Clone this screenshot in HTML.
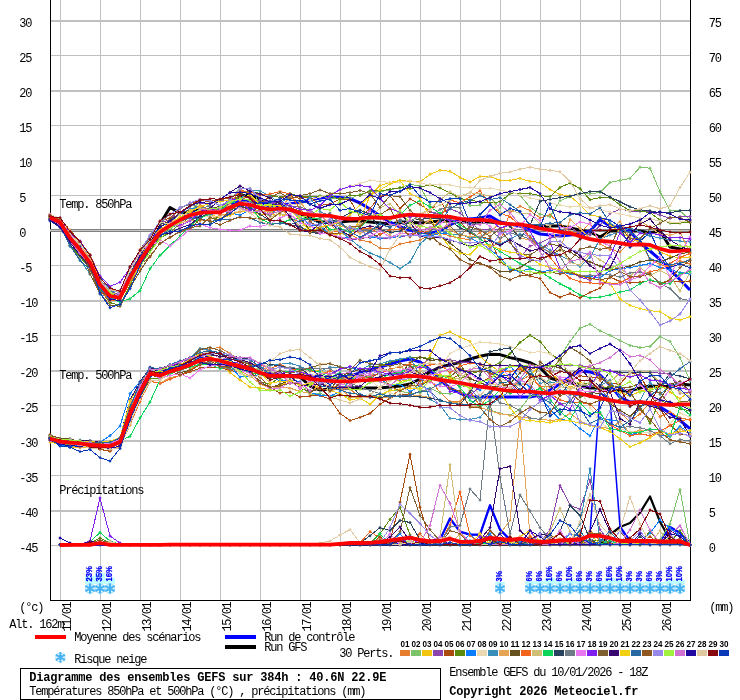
<!DOCTYPE html>
<html lang="fr"><head><meta charset="utf-8"><title>Diagramme des ensembles GEFS</title>
<style>html,body{margin:0;padding:0;background:#fff}svg{display:block;will-change:transform}</style></head>
<body>
<svg width="740" height="700" viewBox="0 0 740 700">
<rect width="740" height="700" fill="#fff"/>
<g shape-rendering="crispEdges">
<rect x="50" y="20" width="640" height="2" fill="#c0c0c0"/>
<rect x="50" y="55" width="640" height="1" fill="#c0c0c0"/>
<rect x="50" y="90" width="640" height="2" fill="#c0c0c0"/>
<rect x="50" y="125" width="640" height="1" fill="#c0c0c0"/>
<rect x="50" y="160" width="640" height="2" fill="#c0c0c0"/>
<rect x="50" y="195" width="640" height="1" fill="#c0c0c0"/>
<rect x="50" y="265" width="640" height="1" fill="#c0c0c0"/>
<rect x="50" y="300" width="640" height="2" fill="#c0c0c0"/>
<rect x="50" y="335" width="640" height="1" fill="#c0c0c0"/>
<rect x="50" y="370" width="640" height="2" fill="#c0c0c0"/>
<rect x="50" y="405" width="640" height="1" fill="#c0c0c0"/>
<rect x="50" y="440" width="640" height="2" fill="#c0c0c0"/>
<rect x="50" y="475" width="640" height="1" fill="#c0c0c0"/>
<rect x="50" y="510" width="640" height="2" fill="#c0c0c0"/>
<rect x="50" y="545" width="640" height="1" fill="#c0c0c0"/>
<rect x="60" y="0" width="1" height="600" fill="#c0c0c0"/>
<rect x="100" y="0" width="1" height="600" fill="#c0c0c0"/>
<rect x="140" y="0" width="1" height="600" fill="#c0c0c0"/>
<rect x="180" y="0" width="1" height="600" fill="#c0c0c0"/>
<rect x="220" y="0" width="1" height="600" fill="#c0c0c0"/>
<rect x="260" y="0" width="1" height="600" fill="#c0c0c0"/>
<rect x="300" y="0" width="1" height="600" fill="#c0c0c0"/>
<rect x="340" y="0" width="1" height="600" fill="#c0c0c0"/>
<rect x="380" y="0" width="1" height="600" fill="#c0c0c0"/>
<rect x="420" y="0" width="1" height="600" fill="#c0c0c0"/>
<rect x="460" y="0" width="1" height="600" fill="#c0c0c0"/>
<rect x="500" y="0" width="1" height="600" fill="#c0c0c0"/>
<rect x="540" y="0" width="1" height="600" fill="#c0c0c0"/>
<rect x="580" y="0" width="1" height="600" fill="#c0c0c0"/>
<rect x="620" y="0" width="1" height="600" fill="#c0c0c0"/>
<rect x="660" y="0" width="1" height="600" fill="#c0c0c0"/>
</g>
<g shape-rendering="crispEdges" fill="#000"><rect x="50" y="0" width="1" height="601"/><rect x="690" y="0" width="1" height="601"/><rect x="50" y="600" width="641" height="1"/></g>
<g shape-rendering="crispEdges"><rect x="50" y="229" width="640" height="3" fill="#808080"/><rect x="50" y="230" width="640" height="1" fill="#c8c8c8"/></g>
<path d="M50 217.8 L60 222.2 L70 238.0 L80 249.5 L90 262.6 L100 284.6 L110 296.0 L120 297.8 L130 277.6 L140 260.9 L150 246.0 L160 224.0 L170 207.5 L180 213.0 L190 212.0 L200 210.0 L210 210.0 L220 210.0 L230 205.0 L240 196.0 L250 195.0 L260 199.0 L270 204.0 L280 207.0 L290 210.0 L300 214.0 L310 218.0 L320 222.0 L330 222.0 L340 222.0 L350 221.0 L360 221.0 L370 222.0 L380 223.0 L390 224.0 L400 222.5 L410 222.0 L420 223.0 L430 222.0 L440 221.0 L450 221.0 L460 222.0 L470 222.0 L480 222.0 L490 222.0 L500 223.0 L510 224.0 L520 225.0 L530 226.0 L540 227.0 L550 226.0 L560 226.0 L570 228.0 L580 230.0 L590 232.0 L600 237.0 L610 231.0 L620 231.0 L630 231.0 L640 231.0 L650 233.0 L660 231.0 L670 247.0 L680 249.0 L690 250.0" fill="none" stroke="#000" stroke-width="3" stroke-linejoin="round" stroke-linecap="butt"/>
<path d="M50 438.5 L60 441.6 L70 442.6 L80 443.4 L90 444.8 L100 445.7 L110 446.0 L120 442.0 L130 414.0 L140 391.8 L150 373.5 L160 375.5 L170 371.5 L180 368.6 L190 364.9 L200 360.3 L210 358.7 L220 360.7 L230 363.7 L240 366.4 L250 368.8 L260 372.8 L270 375.9 L280 375.9 L290 375.9 L300 376.9 L310 386.0 L320 390.0 L330 389.0 L340 388.0 L350 388.0 L360 388.0 L370 388.0 L380 388.0 L390 387.0 L400 386.0 L410 384.0 L420 379.0 L430 372.0 L440 367.0 L450 364.7 L460 362.3 L470 359.0 L480 356.2 L490 354.2 L500 354.6 L510 357.6 L520 359.7 L530 362.7 L540 367.8 L550 378.0 L560 381.0 L570 382.0 L580 386.0 L590 388.0 L600 388.0 L610 389.0 L620 391.0 L630 390.7 L640 388.0 L650 386.0 L660 386.6 L670 386.6 L680 384.0 L690 385.0" fill="none" stroke="#000" stroke-width="3" stroke-linejoin="round" stroke-linecap="butt"/>
<path d="M60 545.0 L70 545.0 L80 545.0 L90 545.0 L100 545.0 L110 545.0 L120 544.9 L130 544.9 L140 544.9 L150 544.9 L160 544.9 L170 544.9 L180 544.9 L190 544.9 L200 544.9 L210 544.9 L220 544.9 L230 544.8 L240 544.8 L250 544.8 L260 544.8 L270 544.8 L280 544.8 L290 544.8 L300 544.8 L310 544.8 L320 544.8 L330 544.8 L340 544.7 L350 544.7 L360 544.7 L370 544.7 L380 544.7 L390 544.7 L400 544.7 L410 544.7 L420 544.7 L430 544.7 L440 544.6 L450 544.6 L460 544.6 L470 544.6 L480 544.6 L490 544.6 L500 544.6 L510 544.6 L520 544.6 L530 544.6 L540 544.6 L550 544.5 L560 544.5 L570 544.5 L580 544.5 L590 544.5 L600 544.5 L610 534.6 L620 527.0 L630 523.0 L640 512.7 L650 496.5 L660 521.7 L670 539.7 L680 544.0 L690 545.0" fill="none" stroke="#000" stroke-width="2.2" stroke-linejoin="round" stroke-linecap="butt"/>
<path d="M50 218.0 L60 222.0 L70 238.0 L80 250.0 L90 263.0 L100 285.0 L110 296.0 L120 297.0 L130 277.0 L140 260.0 L150 245.0 L160 232.0 L170 225.0 L180 219.0 L190 214.0 L200 211.0 L210 210.0 L220 209.0 L230 205.0 L240 200.0 L250 201.0 L260 203.0 L270 206.0 L280 205.0 L290 204.0 L300 202.0 L310 200.0 L320 198.0 L330 197.0 L340 197.5 L350 198.7 L360 203.0 L370 209.0 L380 216.0 L390 222.0 L400 227.0 L410 230.0 L420 232.0 L430 233.5 L440 231.0 L450 225.0 L460 220.0 L470 219.0 L480 218.0 L490 216.0 L500 222.0 L510 224.0 L520 226.0 L530 230.0 L540 234.0 L550 235.0 L560 236.0 L570 235.0 L580 234.0 L590 231.0 L600 220.0 L610 226.0 L620 227.0 L630 231.0 L640 243.0 L650 251.0 L660 259.5 L670 269.6 L680 279.7 L690 290.0" fill="none" stroke="#0000ff" stroke-width="3" stroke-linejoin="round" stroke-linecap="butt"/>
<path d="M50 438.5 L60 441.6 L70 442.6 L80 443.4 L90 444.8 L100 445.7 L110 446.0 L120 442.0 L130 414.0 L140 391.8 L150 373.5 L160 375.5 L170 371.5 L180 368.6 L190 364.9 L200 360.3 L210 358.7 L220 360.7 L230 363.7 L240 366.4 L250 368.8 L260 372.8 L270 375.9 L280 375.9 L290 375.9 L300 375.0 L310 376.0 L320 377.0 L330 378.0 L340 378.0 L350 376.0 L360 373.0 L370 370.0 L380 367.0 L390 364.0 L400 361.0 L410 359.0 L420 362.0 L430 370.0 L440 380.0 L450 388.0 L460 393.0 L470 397.0 L480 397.0 L490 397.0 L500 397.0 L510 397.0 L520 397.0 L530 397.0 L540 395.0 L550 390.0 L560 384.0 L570 377.0 L580 371.0 L590 372.0 L600 375.0 L610 385.0 L620 397.0 L630 402.0 L640 402.0 L650 403.0 L660 407.0 L670 413.0 L680 420.5 L690 428.6" fill="none" stroke="#0000ff" stroke-width="3" stroke-linejoin="round" stroke-linecap="butt"/>
<path d="M60 545.0 L70 545.0 L80 544.9 L90 544.9 L100 544.9 L110 544.9 L120 544.8 L130 544.8 L140 544.8 L150 544.8 L160 544.7 L170 544.7 L180 544.7 L190 544.6 L200 544.6 L210 544.6 L220 544.6 L230 544.5 L240 544.5 L250 544.5 L260 544.5 L270 544.4 L280 544.4 L290 544.4 L300 544.4 L310 544.3 L320 544.3 L330 544.3 L340 544.2 L350 544.2 L360 544.2 L370 544.2 L380 544.1 L390 544.1 L400 544.1 L410 544.1 L420 544.0 L430 544.0 L440 539.7 L450 518.5 L460 531.6 L470 534.7 L480 534.7 L490 505.3 L500 529.6 L510 539.7 L520 542.0 L530 541.9 L540 541.8 L550 541.8 L560 541.7 L570 541.6 L580 541.5 L590 534.0 L600 393.0 L610 399.0 L620 527.0 L630 541.0 L640 541.0 L650 541.0 L660 541.0 L670 527.0 L680 533.0 L690 543.0" fill="none" stroke="#0000ff" stroke-width="1.5" stroke-linejoin="round" stroke-linecap="butt"/>
<path d="M60 545.0 L70 545.0 L80 544.9 L90 544.9 L100 544.9 L110 544.9 L120 544.8 L130 544.8 L140 544.8 L150 544.8 L160 544.7 L170 544.7 L180 544.7 L190 544.6 L200 544.6 L210 544.6 L220 544.6 L230 544.5 L240 544.5 L250 544.5 L260 544.5 L270 544.4 L280 544.4 L290 544.4 L300 544.4 L310 544.3 L320 544.3 L330 544.3 L340 544.2 L350 544.2 L360 544.2 L370 544.2 L380 544.1 L390 544.1 L400 544.1 L410 544.1 L420 544.0 L430 544.0 L440 539.7 L450 518.5 L460 531.6 L470 534.7 L480 534.7 L490 505.3 L500 529.6 L510 539.7 L520 542.0 L530 541.9 L540 541.8 L550 541.8 L560 541.7 L570 541.6 L580 541.5 L590 534.0" fill="none" stroke="#0000ff" stroke-width="2.3" stroke-linejoin="round" stroke-linecap="butt"/>
<path d="M620 527.0 L630 541.0 L640 541.0 L650 541.0 L660 541.0 L670 527.0 L680 533.0 L690 543.0" fill="none" stroke="#0000ff" stroke-width="2.3" stroke-linejoin="round" stroke-linecap="butt"/>
<defs>
<marker id="k1" viewBox="-2 -2 4 4" markerWidth="4" markerHeight="4" markerUnits="userSpaceOnUse" overflow="visible"><path d="M-1.7 0L0 -1.7L1.7 0L0 1.7Z" fill="#E67E30"/></marker>
<marker id="k2" viewBox="-2 -2 4 4" markerWidth="4" markerHeight="4" markerUnits="userSpaceOnUse" overflow="visible"><path d="M-1.7 0L0 -1.7L1.7 0L0 1.7Z" fill="#7DC369"/></marker>
<marker id="k3" viewBox="-2 -2 4 4" markerWidth="4" markerHeight="4" markerUnits="userSpaceOnUse" overflow="visible"><path d="M-1.7 0L0 -1.7L1.7 0L0 1.7Z" fill="#F1C40F"/></marker>
<marker id="k4" viewBox="-2 -2 4 4" markerWidth="4" markerHeight="4" markerUnits="userSpaceOnUse" overflow="visible"><path d="M-1.7 0L0 -1.7L1.7 0L0 1.7Z" fill="#8E44AD"/></marker>
<marker id="k5" viewBox="-2 -2 4 4" markerWidth="4" markerHeight="4" markerUnits="userSpaceOnUse" overflow="visible"><path d="M-1.7 0L0 -1.7L1.7 0L0 1.7Z" fill="#AA4A0C"/></marker>
<marker id="k6" viewBox="-2 -2 4 4" markerWidth="4" markerHeight="4" markerUnits="userSpaceOnUse" overflow="visible"><path d="M-1.7 0L0 -1.7L1.7 0L0 1.7Z" fill="#5B8A0C"/></marker>
<marker id="k7" viewBox="-2 -2 4 4" markerWidth="4" markerHeight="4" markerUnits="userSpaceOnUse" overflow="visible"><path d="M-1.7 0L0 -1.7L1.7 0L0 1.7Z" fill="#0A7CFF"/></marker>
<marker id="k8" viewBox="-2 -2 4 4" markerWidth="4" markerHeight="4" markerUnits="userSpaceOnUse" overflow="visible"><path d="M-1.7 0L0 -1.7L1.7 0L0 1.7Z" fill="#EAD9B0"/></marker>
<marker id="k9" viewBox="-2 -2 4 4" markerWidth="4" markerHeight="4" markerUnits="userSpaceOnUse" overflow="visible"><path d="M-1.7 0L0 -1.7L1.7 0L0 1.7Z" fill="#3A8EBA"/></marker>
<marker id="k10" viewBox="-2 -2 4 4" markerWidth="4" markerHeight="4" markerUnits="userSpaceOnUse" overflow="visible"><path d="M-1.7 0L0 -1.7L1.7 0L0 1.7Z" fill="#E5A555"/></marker>
<marker id="k11" viewBox="-2 -2 4 4" markerWidth="4" markerHeight="4" markerUnits="userSpaceOnUse" overflow="visible"><path d="M-1.7 0L0 -1.7L1.7 0L0 1.7Z" fill="#65501E"/></marker>
<marker id="k12" viewBox="-2 -2 4 4" markerWidth="4" markerHeight="4" markerUnits="userSpaceOnUse" overflow="visible"><path d="M-1.7 0L0 -1.7L1.7 0L0 1.7Z" fill="#F2641C"/></marker>
<marker id="k13" viewBox="-2 -2 4 4" markerWidth="4" markerHeight="4" markerUnits="userSpaceOnUse" overflow="visible"><path d="M-1.7 0L0 -1.7L1.7 0L0 1.7Z" fill="#D1BE76"/></marker>
<marker id="k14" viewBox="-2 -2 4 4" markerWidth="4" markerHeight="4" markerUnits="userSpaceOnUse" overflow="visible"><path d="M-1.7 0L0 -1.7L1.7 0L0 1.7Z" fill="#0AD558"/></marker>
<marker id="k15" viewBox="-2 -2 4 4" markerWidth="4" markerHeight="4" markerUnits="userSpaceOnUse" overflow="visible"><path d="M-1.7 0L0 -1.7L1.7 0L0 1.7Z" fill="#26425E"/></marker>
<marker id="k16" viewBox="-2 -2 4 4" markerWidth="4" markerHeight="4" markerUnits="userSpaceOnUse" overflow="visible"><path d="M-1.7 0L0 -1.7L1.7 0L0 1.7Z" fill="#6E7A84"/></marker>
<marker id="k17" viewBox="-2 -2 4 4" markerWidth="4" markerHeight="4" markerUnits="userSpaceOnUse" overflow="visible"><path d="M-1.7 0L0 -1.7L1.7 0L0 1.7Z" fill="#E878F0"/></marker>
<marker id="k18" viewBox="-2 -2 4 4" markerWidth="4" markerHeight="4" markerUnits="userSpaceOnUse" overflow="visible"><path d="M-1.7 0L0 -1.7L1.7 0L0 1.7Z" fill="#8020F0"/></marker>
<marker id="k19" viewBox="-2 -2 4 4" markerWidth="4" markerHeight="4" markerUnits="userSpaceOnUse" overflow="visible"><path d="M-1.7 0L0 -1.7L1.7 0L0 1.7Z" fill="#806030"/></marker>
<marker id="k20" viewBox="-2 -2 4 4" markerWidth="4" markerHeight="4" markerUnits="userSpaceOnUse" overflow="visible"><path d="M-1.7 0L0 -1.7L1.7 0L0 1.7Z" fill="#380870"/></marker>
<marker id="k21" viewBox="-2 -2 4 4" markerWidth="4" markerHeight="4" markerUnits="userSpaceOnUse" overflow="visible"><path d="M-1.7 0L0 -1.7L1.7 0L0 1.7Z" fill="#F0D010"/></marker>
<marker id="k22" viewBox="-2 -2 4 4" markerWidth="4" markerHeight="4" markerUnits="userSpaceOnUse" overflow="visible"><path d="M-1.7 0L0 -1.7L1.7 0L0 1.7Z" fill="#2868A0"/></marker>
<marker id="k23" viewBox="-2 -2 4 4" markerWidth="4" markerHeight="4" markerUnits="userSpaceOnUse" overflow="visible"><path d="M-1.7 0L0 -1.7L1.7 0L0 1.7Z" fill="#905820"/></marker>
<marker id="k24" viewBox="-2 -2 4 4" markerWidth="4" markerHeight="4" markerUnits="userSpaceOnUse" overflow="visible"><path d="M-1.7 0L0 -1.7L1.7 0L0 1.7Z" fill="#9888E8"/></marker>
<marker id="k25" viewBox="-2 -2 4 4" markerWidth="4" markerHeight="4" markerUnits="userSpaceOnUse" overflow="visible"><path d="M-1.7 0L0 -1.7L1.7 0L0 1.7Z" fill="#A0F040"/></marker>
<marker id="k26" viewBox="-2 -2 4 4" markerWidth="4" markerHeight="4" markerUnits="userSpaceOnUse" overflow="visible"><path d="M-1.7 0L0 -1.7L1.7 0L0 1.7Z" fill="#D070D0"/></marker>
<marker id="k27" viewBox="-2 -2 4 4" markerWidth="4" markerHeight="4" markerUnits="userSpaceOnUse" overflow="visible"><path d="M-1.7 0L0 -1.7L1.7 0L0 1.7Z" fill="#2008A0"/></marker>
<marker id="k28" viewBox="-2 -2 4 4" markerWidth="4" markerHeight="4" markerUnits="userSpaceOnUse" overflow="visible"><path d="M-1.7 0L0 -1.7L1.7 0L0 1.7Z" fill="#E0C8A0"/></marker>
<marker id="k29" viewBox="-2 -2 4 4" markerWidth="4" markerHeight="4" markerUnits="userSpaceOnUse" overflow="visible"><path d="M-1.7 0L0 -1.7L1.7 0L0 1.7Z" fill="#880810"/></marker>
<marker id="k30" viewBox="-2 -2 4 4" markerWidth="4" markerHeight="4" markerUnits="userSpaceOnUse" overflow="visible"><path d="M-1.7 0L0 -1.7L1.7 0L0 1.7Z" fill="#0838B8"/></marker>
</defs>
<g fill="none" stroke-width="1" stroke-linejoin="round" shape-rendering="crispEdges">
<path d="M50 217.9 L60 222.2 L70 237.5 L80 245.4 L90 262.1 L100 289.5 L110 300.2 L120 297.5 L130 274.2 L140 261.8 L150 243.8 L160 231.7 L170 224.8 L180 218.5 L190 213.3 L200 205.2 L210 210.5 L220 208.4 L230 198.7 L240 189.3 L250 194.1 L260 203.8 L270 214.9 L280 206.7 L290 218.6 L300 221.5 L310 218.9 L320 215.4 L330 224.1 L340 233.7 L350 234.4 L360 240.0 L370 242.0 L380 248.0 L390 249.0 L400 244.0 L410 242.0 L420 240.0 L430 235.0 L440 233.0 L450 236.0 L460 238.3 L470 239.8 L480 232.8 L490 248.1 L500 241.8 L510 212.2 L520 206.2 L530 210.6 L540 217.9 L550 214.8 L560 223.6 L570 231.6 L580 232.9 L590 223.3 L600 243.9 L610 249.6 L620 251.9 L630 241.6 L640 240.0 L650 259.6 L660 264.6 L670 267.0 L680 260.7 L690 263.9" stroke="#E67E30" marker-start="url(#k1)" marker-mid="url(#k1)" marker-end="url(#k1)"/>
<path d="M50 436.5 L60 439.4 L70 442.8 L80 443.2 L90 448.0 L100 446.9 L110 444.8 L120 439.6 L130 405.7 L140 384.1 L150 368.3 L160 371.5 L170 367.2 L180 364.9 L190 363.2 L200 355.2 L210 348.8 L220 347.5 L230 353.6 L240 360.6 L250 362.9 L260 367.6 L270 369.7 L280 367.3 L290 367.9 L300 374.8 L310 381.4 L320 388.8 L330 390.6 L340 388.4 L350 389.0 L360 397.2 L370 395.5 L380 398.4 L390 397.1 L400 389.6 L410 386.8 L420 384.5 L430 379.2 L440 392.4 L450 401.6 L460 401.8 L470 390.8 L480 406.2 L490 393.8 L500 382.6 L510 388.5 L520 380.6 L530 375.1 L540 386.2 L550 387.0 L560 380.2 L570 379.9 L580 366.9 L590 366.7 L600 380.2 L610 400.0 L620 412.7 L630 421.5 L640 414.0 L650 402.1 L660 416.7 L670 411.9 L680 417.8 L690 419.9" stroke="#E67E30" marker-start="url(#k1)" marker-mid="url(#k1)" marker-end="url(#k1)"/>
<path d="M60 544.6 L70 544.6 L80 544.6 L90 544.6 L100 541.6 L110 544.6 L120 544.6 L130 544.6 L140 544.6 L150 544.6 L160 544.6 L170 544.6 L180 544.6 L190 544.6 L200 544.6 L210 544.6 L220 544.6 L230 544.6 L240 544.6 L250 544.6 L260 544.6 L270 544.6 L280 544.6 L290 544.6 L300 544.6 L310 544.6 L320 544.6 L330 544.6 L340 544.6 L350 544.6 L360 544.6 L370 544.6 L380 538.6 L390 544.6 L400 544.6 L410 544.6 L420 544.6 L430 540.6 L440 544.6 L450 544.6 L460 544.6 L470 544.6 L480 544.6 L490 544.6 L500 544.6 L510 542.6 L520 544.6 L530 544.6 L540 544.6 L550 544.6 L560 544.6 L570 544.6 L580 544.6 L590 530.6 L600 540.6 L610 544.6 L620 544.6 L630 544.6 L640 544.6 L650 544.6 L660 542.6 L670 544.6 L680 544.6 L690 544.8" stroke="#E67E30" marker-start="url(#k1)" marker-mid="url(#k1)" marker-end="url(#k1)"/>
<path d="M50 216.0 L60 219.3 L70 234.5 L80 248.7 L90 257.7 L100 280.1 L110 289.9 L120 291.8 L130 267.5 L140 252.5 L150 238.4 L160 231.9 L170 220.9 L180 218.1 L190 210.9 L200 202.0 L210 206.1 L220 210.8 L230 199.5 L240 188.2 L250 188.3 L260 203.2 L270 209.6 L280 203.6 L290 194.3 L300 197.1 L310 197.2 L320 195.7 L330 198.4 L340 198.5 L350 198.7 L360 194.5 L370 191.9 L380 191.7 L390 189.7 L400 187.8 L410 184.4 L420 186.1 L430 204.7 L440 214.9 L450 199.2 L460 197.7 L470 205.5 L480 205.0 L490 197.3 L500 207.9 L510 191.6 L520 195.2 L530 207.2 L540 214.3 L550 216.8 L560 200.7 L570 196.6 L580 193.6 L590 193.6 L600 192.6 L610 182.4 L620 180.4 L630 178.4 L640 167.2 L650 168.2 L660 191.6 L670 210.8 L680 210.8 L690 220.0" stroke="#7DC369" marker-start="url(#k2)" marker-mid="url(#k2)" marker-end="url(#k2)"/>
<path d="M50 438.9 L60 440.8 L70 442.1 L80 440.9 L90 444.1 L100 443.7 L110 444.0 L120 440.0 L130 408.0 L140 391.5 L150 374.3 L160 376.5 L170 373.2 L180 364.9 L190 362.1 L200 358.3 L210 357.8 L220 362.9 L230 363.3 L240 368.5 L250 367.4 L260 370.0 L270 377.4 L280 378.6 L290 383.4 L300 383.9 L310 394.8 L320 393.5 L330 396.7 L340 394.2 L350 397.8 L360 397.4 L370 394.7 L380 397.5 L390 389.8 L400 391.0 L410 393.2 L420 392.9 L430 388.1 L440 393.0 L450 393.7 L460 391.5 L470 396.5 L480 399.8 L490 409.7 L500 413.6 L510 415.1 L520 409.2 L530 396.3 L540 394.8 L550 377.0 L560 356.6 L570 341.4 L580 328.2 L590 324.2 L600 330.8 L610 335.3 L620 340.4 L630 345.5 L640 347.5 L650 346.5 L660 336.4 L670 341.4 L680 357.6 L690 381.0" stroke="#7DC369" marker-start="url(#k2)" marker-mid="url(#k2)" marker-end="url(#k2)"/>
<path d="M60 544.6 L70 544.6 L80 544.6 L90 544.6 L100 544.6 L110 543.6 L120 544.6 L130 544.6 L140 544.6 L150 544.6 L160 544.6 L170 544.6 L180 544.6 L190 544.6 L200 544.6 L210 544.6 L220 544.6 L230 544.6 L240 544.6 L250 544.6 L260 544.6 L270 544.6 L280 544.6 L290 544.6 L300 544.6 L310 544.6 L320 544.6 L330 544.6 L340 544.6 L350 544.6 L360 544.6 L370 544.6 L380 544.6 L390 544.6 L400 544.6 L410 544.6 L420 544.6 L430 544.6 L440 544.6 L450 544.6 L460 544.6 L470 544.6 L480 540.6 L490 538.6 L500 544.6 L510 544.6 L520 544.6 L530 544.6 L540 544.6 L550 544.6 L560 544.6 L570 544.6 L580 541.6 L590 544.6 L600 544.6 L610 544.6 L620 544.6 L630 544.6 L640 544.6 L650 543.0 L660 540.0 L670 524.0 L680 489.6 L690 544.8" stroke="#7DC369" marker-start="url(#k2)" marker-mid="url(#k2)" marker-end="url(#k2)"/>
<path d="M50 215.5 L60 221.2 L70 235.0 L80 243.8 L90 257.4 L100 280.7 L110 290.8 L120 296.1 L130 272.5 L140 258.0 L150 242.3 L160 231.6 L170 229.6 L180 221.1 L190 217.1 L200 212.9 L210 214.0 L220 218.2 L230 215.6 L240 211.3 L250 212.0 L260 214.5 L270 214.1 L280 214.8 L290 215.8 L300 230.3 L310 226.7 L320 228.5 L330 235.6 L340 233.6 L350 235.0 L360 220.0 L370 195.6 L380 185.5 L390 182.4 L400 180.4 L410 181.4 L420 181.9 L430 174.3 L440 170.3 L450 171.3 L460 177.4 L470 182.0 L480 176.4 L490 176.4 L500 180.4 L510 180.4 L520 178.4 L530 181.4 L540 182.4 L550 189.5 L560 194.6 L570 196.0 L580 204.7 L590 214.9 L600 216.9 L610 225.0 L620 232.0 L630 238.0 L640 242.0 L650 246.0 L660 252.0 L670 256.0 L680 258.0 L690 257.0" stroke="#F1C40F" marker-start="url(#k3)" marker-mid="url(#k3)" marker-end="url(#k3)"/>
<path d="M50 442.2 L60 444.4 L70 447.0 L80 447.2 L90 447.7 L100 445.5 L110 446.8 L120 439.4 L130 408.4 L140 385.9 L150 371.7 L160 375.4 L170 371.4 L180 366.2 L190 363.8 L200 362.4 L210 357.9 L220 362.0 L230 372.8 L240 380.0 L250 387.0 L260 388.0 L270 390.0 L280 385.1 L290 382.0 L300 374.5 L310 371.1 L320 370.6 L330 375.4 L340 379.4 L350 376.6 L360 377.2 L370 377.5 L380 378.9 L390 377.2 L400 381.4 L410 379.6 L420 370.5 L430 355.6 L440 335.3 L450 331.8 L460 337.0 L470 341.4 L480 356.6 L490 364.7 L500 372.0 L510 378.0 L520 366.7 L530 375.8 L540 365.5 L550 372.8 L560 380.3 L570 387.4 L580 382.8 L590 383.7 L600 389.7 L610 390.6 L620 392.3 L630 396.1 L640 391.3 L650 389.3 L660 385.2 L670 392.1 L680 398.6 L690 391.0" stroke="#F1C40F" marker-start="url(#k3)" marker-mid="url(#k3)" marker-end="url(#k3)"/>
<path d="M60 544.6 L70 544.6 L80 544.6 L90 544.6 L100 542.6 L110 541.6 L120 544.6 L130 544.6 L140 544.6 L150 544.6 L160 544.6 L170 544.6 L180 544.6 L190 544.6 L200 544.6 L210 544.6 L220 544.6 L230 544.6 L240 544.6 L250 544.6 L260 544.6 L270 544.6 L280 544.6 L290 544.6 L300 544.6 L310 544.6 L320 544.6 L330 544.6 L340 544.6 L350 544.6 L360 544.6 L370 544.6 L380 544.6 L390 544.6 L400 544.6 L410 544.6 L420 544.6 L430 544.6 L440 544.6 L450 544.6 L460 544.6 L470 544.6 L480 544.6 L490 544.6 L500 544.6 L510 544.6 L520 536.6 L530 530.6 L540 541.6 L550 544.6 L560 544.6 L570 544.6 L580 542.6 L590 541.6 L600 544.6 L610 544.6 L620 544.6 L630 538.6 L640 544.6 L650 542.6 L660 544.6 L670 544.6 L680 544.6 L690 544.8" stroke="#F1C40F" marker-start="url(#k3)" marker-mid="url(#k3)" marker-end="url(#k3)"/>
<path d="M50 214.1 L60 219.0 L70 230.8 L80 241.4 L90 254.8 L100 276.6 L110 290.4 L120 290.8 L130 268.9 L140 258.0 L150 241.3 L160 222.5 L170 219.9 L180 208.5 L190 202.9 L200 202.9 L210 203.9 L220 200.7 L230 200.2 L240 197.3 L250 200.9 L260 200.8 L270 201.9 L280 204.9 L290 216.2 L300 228.8 L310 232.5 L320 232.6 L330 233.8 L340 237.6 L350 239.6 L360 238.7 L370 232.0 L380 238.5 L390 237.9 L400 236.3 L410 235.7 L420 223.3 L430 211.6 L440 214.2 L450 208.6 L460 213.0 L470 222.4 L480 230.1 L490 229.5 L500 229.6 L510 241.9 L520 257.6 L530 246.0 L540 243.1 L550 238.2 L560 235.9 L570 226.8 L580 233.8 L590 235.0 L600 225.5 L610 213.6 L620 209.1 L630 211.0 L640 211.2 L650 211.9 L660 215.1 L670 218.3 L680 216.6 L690 216.5" stroke="#8E44AD" marker-start="url(#k4)" marker-mid="url(#k4)" marker-end="url(#k4)"/>
<path d="M50 435.5 L60 439.1 L70 439.6 L80 442.8 L90 443.5 L100 442.3 L110 442.6 L120 438.2 L130 399.9 L140 385.5 L150 371.9 L160 371.9 L170 366.9 L180 361.2 L190 357.5 L200 353.1 L210 353.9 L220 357.6 L230 359.2 L240 360.4 L250 364.8 L260 366.7 L270 372.0 L280 373.2 L290 377.5 L300 374.4 L310 376.9 L320 384.6 L330 380.4 L340 386.5 L350 387.0 L360 380.3 L370 374.6 L380 373.7 L390 369.4 L400 374.4 L410 368.2 L420 365.0 L430 358.7 L440 359.9 L450 359.7 L460 362.0 L470 362.5 L480 363.4 L490 374.8 L500 371.5 L510 366.8 L520 365.6 L530 365.0 L540 365.3 L550 366.2 L560 365.1 L570 365.1 L580 365.2 L590 367.9 L600 369.0 L610 371.2 L620 372.9 L630 372.8 L640 371.6 L650 372.0 L660 373.2 L670 373.2 L680 393.2 L690 392.7" stroke="#8E44AD" marker-start="url(#k4)" marker-mid="url(#k4)" marker-end="url(#k4)"/>
<path d="M60 544.6 L70 544.6 L80 544.6 L90 543.6 L100 544.6 L110 542.6 L120 544.6 L130 544.6 L140 544.6 L150 544.6 L160 544.6 L170 544.6 L180 544.6 L190 544.6 L200 544.6 L210 544.6 L220 544.6 L230 544.6 L240 544.6 L250 544.6 L260 544.6 L270 544.6 L280 544.6 L290 544.6 L300 544.6 L310 544.6 L320 544.6 L330 544.6 L340 544.6 L350 544.6 L360 544.6 L370 544.6 L380 544.6 L390 544.6 L400 544.6 L410 544.6 L420 533.6 L430 544.6 L440 544.6 L450 542.6 L460 544.6 L470 544.6 L480 544.6 L490 544.6 L500 544.6 L510 538.6 L520 544.6 L530 544.6 L540 543.0 L550 529.6 L560 485.4 L570 505.3 L580 509.3 L590 480.0 L600 529.6 L610 543.0 L620 544.6 L630 544.6 L640 542.6 L650 544.6 L660 544.6 L670 536.6 L680 541.6 L690 544.8" stroke="#8E44AD" marker-start="url(#k4)" marker-mid="url(#k4)" marker-end="url(#k4)"/>
<path d="M50 214.6 L60 219.1 L70 229.9 L80 242.0 L90 254.8 L100 277.9 L110 288.4 L120 291.1 L130 267.7 L140 249.9 L150 235.7 L160 221.6 L170 218.0 L180 207.9 L190 203.2 L200 200.7 L210 201.3 L220 199.5 L230 198.4 L240 197.3 L250 197.1 L260 204.4 L270 195.1 L280 197.4 L290 196.4 L300 198.4 L310 197.0 L320 205.5 L330 204.0 L340 198.8 L350 199.8 L360 217.8 L370 208.5 L380 196.1 L390 195.6 L400 208.4 L410 199.0 L420 204.4 L430 211.3 L440 199.0 L450 219.9 L460 221.7 L470 233.2 L480 237.4 L490 238.4 L500 262.0 L510 268.0 L520 272.0 L530 276.0 L540 278.4 L550 292.4 L560 297.2 L570 293.5 L580 297.8 L590 292.4 L600 288.0 L610 276.9 L620 281.6 L630 282.7 L640 282.3 L650 280.5 L660 282.7 L670 281.6 L680 281.2 L690 281.0" stroke="#AA4A0C" marker-start="url(#k5)" marker-mid="url(#k5)" marker-end="url(#k5)"/>
<path d="M50 437.4 L60 440.7 L70 442.8 L80 445.4 L90 447.5 L100 449.3 L110 451.3 L120 444.4 L130 420.6 L140 395.8 L150 381.0 L160 383.3 L170 378.9 L180 375.4 L190 371.9 L200 368.1 L210 366.9 L220 367.7 L230 370.3 L240 372.5 L250 371.2 L260 377.2 L270 387.0 L280 393.1 L290 392.0 L300 397.0 L310 396.0 L320 395.5 L330 399.2 L340 413.4 L350 420.5 L360 417.4 L370 413.4 L380 404.3 L390 398.0 L400 395.0 L410 393.8 L420 381.0 L430 380.3 L440 377.4 L450 379.6 L460 374.3 L470 378.3 L480 383.0 L490 377.3 L500 375.2 L510 365.5 L520 365.9 L530 369.7 L540 366.5 L550 372.1 L560 384.4 L570 381.4 L580 375.9 L590 376.6 L600 378.4 L610 383.8 L620 384.1 L630 372.6 L640 375.1 L650 393.6 L660 409.0 L670 424.4 L680 434.2 L690 435.4" stroke="#AA4A0C" marker-start="url(#k5)" marker-mid="url(#k5)" marker-end="url(#k5)"/>
<path d="M60 544.6 L70 544.6 L80 544.6 L90 544.6 L100 544.6 L110 544.6 L120 544.6 L130 544.6 L140 544.6 L150 544.6 L160 544.6 L170 544.6 L180 544.6 L190 544.6 L200 544.6 L210 544.6 L220 544.6 L230 544.6 L240 544.6 L250 544.6 L260 544.6 L270 544.6 L280 544.6 L290 544.6 L300 544.6 L310 544.6 L320 544.6 L330 544.6 L340 544.6 L350 544.6 L360 544.6 L370 544.6 L380 544.6 L390 541.0 L400 502.2 L410 454.2 L420 507.3 L430 541.0 L440 544.6 L450 544.6 L460 544.6 L470 544.6 L480 533.6 L490 544.6 L500 540.6 L510 544.6 L520 540.6 L530 541.6 L540 533.6 L550 544.6 L560 544.6 L570 544.6 L580 544.6 L590 540.6 L600 544.6 L610 544.6 L620 544.6 L630 538.6 L640 544.6 L650 536.6 L660 544.6 L670 544.6 L680 544.6 L690 544.8" stroke="#AA4A0C" marker-start="url(#k5)" marker-mid="url(#k5)" marker-end="url(#k5)"/>
<path d="M50 216.6 L60 222.0 L70 246.0 L80 256.5 L90 269.3 L100 290.0 L110 302.6 L120 305.3 L130 285.6 L140 264.6 L150 250.3 L160 237.7 L170 232.8 L180 223.6 L190 217.0 L200 224.6 L210 224.1 L220 215.0 L230 205.1 L240 193.9 L250 191.0 L260 193.7 L270 195.0 L280 197.5 L290 193.5 L300 196.5 L310 196.6 L320 196.3 L330 195.5 L340 199.7 L350 195.2 L360 195.5 L370 190.6 L380 191.0 L390 189.4 L400 187.7 L410 188.5 L420 187.2 L430 184.9 L440 187.9 L450 192.8 L460 198.6 L470 200.0 L480 202.0 L490 203.0 L500 201.7 L510 193.6 L520 193.6 L530 193.6 L540 195.6 L550 196.6 L560 187.5 L570 183.0 L580 188.5 L590 199.7 L600 197.6 L610 197.6 L620 204.7 L630 210.8 L640 210.8 L650 212.8 L660 220.0 L670 223.0 L680 223.0 L690 222.0" stroke="#5B8A0C" marker-start="url(#k6)" marker-mid="url(#k6)" marker-end="url(#k6)"/>
<path d="M50 438.6 L60 441.1 L70 442.8 L80 442.4 L90 443.3 L100 445.2 L110 445.2 L120 443.2 L130 417.9 L140 398.3 L150 378.3 L160 378.1 L170 372.7 L180 368.7 L190 364.1 L200 361.6 L210 359.6 L220 364.2 L230 361.9 L240 368.6 L250 372.4 L260 382.2 L270 383.7 L280 377.7 L290 375.9 L300 375.2 L310 379.2 L320 380.7 L330 376.0 L340 378.8 L350 373.8 L360 377.1 L370 366.8 L380 365.9 L390 362.2 L400 359.6 L410 357.4 L420 357.7 L430 358.2 L440 360.4 L450 360.9 L460 379.1 L470 373.9 L480 371.1 L490 367.2 L500 362.7 L510 353.6 L520 342.4 L530 335.3 L540 341.4 L550 353.6 L560 359.7 L570 376.9 L580 385.0 L590 382.7 L600 387.3 L610 386.9 L620 386.3 L630 392.2 L640 406.5 L650 423.2 L660 399.8 L670 405.4 L680 408.7 L690 410.9" stroke="#5B8A0C" marker-start="url(#k6)" marker-mid="url(#k6)" marker-end="url(#k6)"/>
<path d="M60 544.6 L70 544.6 L80 544.6 L90 543.0 L100 538.0 L110 543.0 L120 544.6 L130 544.6 L140 544.6 L150 544.6 L160 544.6 L170 544.6 L180 544.6 L190 544.6 L200 544.6 L210 544.6 L220 544.6 L230 544.6 L240 544.6 L250 544.6 L260 544.6 L270 544.6 L280 544.6 L290 544.6 L300 544.6 L310 544.6 L320 544.6 L330 544.6 L340 544.6 L350 544.6 L360 544.6 L370 543.0 L380 533.7 L390 519.5 L400 507.3 L410 535.0 L420 543.0 L430 544.6 L440 544.6 L450 544.6 L460 544.6 L470 544.6 L480 536.6 L490 540.6 L500 544.6 L510 541.6 L520 544.6 L530 544.6 L540 544.6 L550 544.6 L560 544.6 L570 544.6 L580 542.6 L590 540.6 L600 540.6 L610 544.6 L620 544.6 L630 544.6 L640 544.6 L650 530.6 L660 544.6 L670 542.6 L680 530.6 L690 544.8" stroke="#5B8A0C" marker-start="url(#k6)" marker-mid="url(#k6)" marker-end="url(#k6)"/>
<path d="M50 219.2 L60 222.3 L70 233.7 L80 243.1 L90 257.2 L100 277.1 L110 289.1 L120 297.6 L130 275.3 L140 255.2 L150 238.9 L160 227.0 L170 221.5 L180 214.5 L190 208.7 L200 207.4 L210 215.6 L220 210.9 L230 212.9 L240 215.3 L250 209.5 L260 203.9 L270 212.3 L280 209.7 L290 208.9 L300 216.3 L310 225.4 L320 226.1 L330 234.5 L340 237.2 L350 238.1 L360 238.3 L370 237.5 L380 238.2 L390 237.5 L400 236.5 L410 234.4 L420 235.3 L430 236.1 L440 233.5 L450 234.0 L460 234.0 L470 238.0 L480 243.0 L490 249.3 L500 257.4 L510 269.6 L520 271.6 L530 268.6 L540 271.6 L550 270.6 L560 272.0 L570 273.7 L580 275.7 L590 276.7 L600 277.7 L610 270.6 L620 268.6 L630 267.6 L640 265.5 L650 263.5 L660 267.6 L670 269.6 L680 272.6 L690 273.7" stroke="#0A7CFF" marker-start="url(#k7)" marker-mid="url(#k7)" marker-end="url(#k7)"/>
<path d="M50 439.2 L60 444.6 L70 447.4 L80 444.5 L90 447.1 L100 442.2 L110 435.7 L120 426.0 L130 393.8 L140 381.6 L150 368.4 L160 371.6 L170 364.4 L180 363.9 L190 360.7 L200 356.0 L210 359.1 L220 363.0 L230 365.7 L240 377.0 L250 375.7 L260 375.6 L270 375.1 L280 381.2 L290 379.2 L300 381.7 L310 392.3 L320 395.4 L330 396.1 L340 391.9 L350 380.0 L360 379.2 L370 382.2 L380 378.7 L390 385.5 L400 384.2 L410 391.5 L420 386.0 L430 389.4 L440 383.2 L450 382.6 L460 383.0 L470 385.1 L480 390.0 L490 380.6 L500 375.5 L510 365.7 L520 378.6 L530 387.3 L540 396.1 L550 409.3 L560 419.5 L570 420.5 L580 428.6 L590 435.7 L600 417.4 L610 420.0 L620 421.5 L630 435.2 L640 431.8 L650 433.0 L660 435.6 L670 436.4 L680 426.4 L690 433.2" stroke="#0A7CFF" marker-start="url(#k7)" marker-mid="url(#k7)" marker-end="url(#k7)"/>
<path d="M60 544.6 L70 544.6 L80 544.6 L90 544.6 L100 544.6 L110 543.6 L120 544.6 L130 544.6 L140 544.6 L150 544.6 L160 544.6 L170 544.6 L180 544.6 L190 544.6 L200 544.6 L210 544.6 L220 544.6 L230 544.6 L240 544.6 L250 544.6 L260 544.6 L270 544.6 L280 544.6 L290 544.6 L300 544.6 L310 544.6 L320 544.6 L330 544.6 L340 544.6 L350 544.6 L360 544.6 L370 544.6 L380 544.6 L390 542.6 L400 533.6 L410 544.6 L420 544.6 L430 544.6 L440 544.6 L450 544.6 L460 544.6 L470 533.6 L480 544.6 L490 533.6 L500 544.6 L510 544.6 L520 544.6 L530 544.6 L540 533.6 L550 544.6 L560 544.6 L570 533.6 L580 536.6 L590 542.6 L600 544.6 L610 544.6 L620 544.6 L630 544.6 L640 543.0 L650 533.0 L660 520.0 L670 528.0 L680 536.0 L690 544.8" stroke="#0A7CFF" marker-start="url(#k7)" marker-mid="url(#k7)" marker-end="url(#k7)"/>
<path d="M50 214.1 L60 218.4 L70 230.4 L80 243.6 L90 257.4 L100 280.6 L110 290.3 L120 291.6 L130 268.9 L140 250.4 L150 238.7 L160 228.6 L170 227.8 L180 223.5 L190 216.8 L200 216.7 L210 216.4 L220 216.5 L230 212.9 L240 210.5 L250 210.6 L260 217.8 L270 219.7 L280 210.2 L290 203.9 L300 205.0 L310 200.0 L320 197.0 L330 193.6 L340 190.5 L350 186.0 L360 183.4 L370 180.4 L380 181.4 L390 182.4 L400 182.4 L410 180.4 L420 182.9 L430 185.0 L440 184.5 L450 184.9 L460 187.1 L470 187.5 L480 188.5 L490 188.1 L500 190.0 L510 192.0 L520 195.0 L530 198.0 L540 200.0 L550 203.0 L560 205.0 L570 207.0 L580 206.0 L590 208.0 L600 210.0 L610 212.0 L620 214.0 L630 216.0 L640 218.0 L650 219.0 L660 221.0 L670 222.0 L680 222.0 L690 221.0" stroke="#EAD9B0" marker-start="url(#k8)" marker-mid="url(#k8)" marker-end="url(#k8)"/>
<path d="M50 439.9 L60 442.9 L70 443.4 L80 444.7 L90 444.7 L100 444.2 L110 448.0 L120 441.9 L130 421.7 L140 395.5 L150 374.6 L160 377.0 L170 373.0 L180 367.1 L190 359.5 L200 353.3 L210 352.1 L220 357.6 L230 357.2 L240 359.8 L250 358.8 L260 363.0 L270 367.1 L280 372.0 L290 381.4 L300 371.4 L310 371.0 L320 363.7 L330 363.0 L340 373.3 L350 385.2 L360 381.6 L370 380.2 L380 387.8 L390 393.1 L400 396.3 L410 385.2 L420 390.3 L430 381.1 L440 368.2 L450 353.6 L460 348.5 L470 345.5 L480 342.0 L490 342.8 L500 344.0 L510 346.5 L520 349.5 L530 352.6 L540 351.6 L550 353.6 L560 362.7 L570 372.0 L580 389.6 L590 407.3 L600 421.7 L610 429.7 L620 428.8 L630 431.8 L640 432.0 L650 432.6 L660 435.7 L670 423.9 L680 413.0 L690 417.1" stroke="#EAD9B0" marker-start="url(#k8)" marker-mid="url(#k8)" marker-end="url(#k8)"/>
<path d="M60 544.6 L70 544.6 L80 544.6 L90 544.6 L100 544.6 L110 542.6 L120 544.6 L130 544.6 L140 544.6 L150 544.6 L160 544.6 L170 544.6 L180 544.6 L190 544.6 L200 544.6 L210 544.6 L220 544.6 L230 544.6 L240 544.6 L250 544.6 L260 544.6 L270 544.6 L280 544.6 L290 544.6 L300 544.6 L310 544.6 L320 544.6 L330 544.6 L340 544.6 L350 544.6 L360 544.6 L370 544.6 L380 544.6 L390 544.6 L400 544.6 L410 538.6 L420 536.6 L430 544.6 L440 544.6 L450 544.6 L460 544.6 L470 544.6 L480 544.6 L490 536.6 L500 544.6 L510 544.6 L520 544.6 L530 538.6 L540 544.6 L550 541.6 L560 544.6 L570 544.6 L580 544.6 L590 544.6 L600 544.6 L610 544.6 L620 538.6 L630 544.6 L640 544.6 L650 544.6 L660 544.6 L670 544.6 L680 544.6 L690 544.8" stroke="#EAD9B0" marker-start="url(#k8)" marker-mid="url(#k8)" marker-end="url(#k8)"/>
<path d="M50 219.0 L60 225.0 L70 246.4 L80 259.4 L90 274.3 L100 294.2 L110 297.9 L120 298.9 L130 280.6 L140 260.1 L150 247.9 L160 234.5 L170 222.8 L180 214.6 L190 213.7 L200 217.4 L210 212.7 L220 211.3 L230 203.2 L240 199.6 L250 190.0 L260 191.1 L270 196.0 L280 203.1 L290 196.3 L300 202.6 L310 197.5 L320 211.6 L330 215.8 L340 230.0 L350 239.0 L360 247.0 L370 253.0 L380 257.0 L390 262.5 L400 268.6 L410 262.0 L420 244.0 L430 235.0 L440 231.0 L450 234.0 L460 234.0 L470 238.0 L480 237.0 L490 240.0 L500 244.0 L510 239.0 L520 234.0 L530 236.0 L540 245.0 L550 250.0 L560 255.4 L570 260.5 L580 266.6 L590 257.4 L600 239.2 L610 235.0 L620 232.0 L630 228.0 L640 232.0 L650 236.0 L660 238.0 L670 240.0 L680 241.0 L690 242.0" stroke="#3A8EBA" marker-start="url(#k9)" marker-mid="url(#k9)" marker-end="url(#k9)"/>
<path d="M50 438.3 L60 444.1 L70 441.6 L80 440.0 L90 440.6 L100 443.1 L110 442.1 L120 440.2 L130 406.8 L140 386.2 L150 370.0 L160 373.5 L170 369.4 L180 365.1 L190 357.6 L200 348.5 L210 350.5 L220 352.7 L230 357.0 L240 360.8 L250 364.0 L260 368.2 L270 365.3 L280 364.2 L290 363.2 L300 366.4 L310 370.9 L320 371.1 L330 367.1 L340 367.1 L350 368.1 L360 369.8 L370 364.9 L380 363.9 L390 361.0 L400 359.2 L410 357.2 L420 375.6 L430 399.1 L440 405.3 L450 418.4 L460 419.5 L470 419.5 L480 417.4 L490 405.3 L500 398.0 L510 391.1 L520 381.4 L530 370.9 L540 383.2 L550 382.3 L560 381.7 L570 394.9 L580 395.1 L590 394.8 L600 385.6 L610 380.1 L620 397.3 L630 406.8 L640 400.7 L650 382.2 L660 394.2 L670 386.4 L680 383.0 L690 380.3" stroke="#3A8EBA" marker-start="url(#k9)" marker-mid="url(#k9)" marker-end="url(#k9)"/>
<path d="M60 544.6 L70 544.6 L80 544.6 L90 544.6 L100 542.6 L110 544.6 L120 544.6 L130 544.6 L140 544.6 L150 544.6 L160 544.6 L170 544.6 L180 544.6 L190 544.6 L200 544.6 L210 544.6 L220 544.6 L230 544.6 L240 544.6 L250 544.6 L260 544.6 L270 544.6 L280 544.6 L290 544.6 L300 544.6 L310 544.6 L320 544.6 L330 544.6 L340 544.6 L350 544.6 L360 544.6 L370 544.6 L380 544.6 L390 544.6 L400 544.6 L410 536.6 L420 544.6 L430 544.6 L440 544.6 L450 544.6 L460 544.6 L470 540.6 L480 544.6 L490 544.6 L500 533.6 L510 544.6 L520 541.6 L530 544.6 L540 544.6 L550 533.6 L560 544.6 L570 543.0 L580 523.5 L590 468.8 L600 539.7 L610 543.0 L620 544.6 L630 544.6 L640 544.6 L650 544.6 L660 544.6 L670 544.6 L680 544.6 L690 544.8" stroke="#3A8EBA" marker-start="url(#k9)" marker-mid="url(#k9)" marker-end="url(#k9)"/>
<path d="M50 216.8 L60 218.7 L70 231.0 L80 245.6 L90 257.3 L100 280.4 L110 289.6 L120 293.0 L130 273.7 L140 262.6 L150 243.3 L160 230.6 L170 227.7 L180 223.3 L190 220.2 L200 221.0 L210 219.3 L220 215.3 L230 213.8 L240 212.0 L250 208.9 L260 211.0 L270 212.0 L280 208.4 L290 197.2 L300 202.0 L310 213.9 L320 214.6 L330 224.1 L340 225.9 L350 228.9 L360 233.5 L370 229.9 L380 227.5 L390 235.5 L400 220.5 L410 227.2 L420 226.8 L430 220.1 L440 213.4 L450 229.5 L460 234.9 L470 236.6 L480 237.3 L490 232.3 L500 222.4 L510 224.2 L520 238.2 L530 239.9 L540 247.2 L550 252.2 L560 250.0 L570 219.4 L580 228.5 L590 238.7 L600 241.8 L610 229.5 L620 221.7 L630 238.0 L640 221.4 L650 227.0 L660 234.1 L670 235.3 L680 232.1 L690 253.0" stroke="#E5A555" marker-start="url(#k10)" marker-mid="url(#k10)" marker-end="url(#k10)"/>
<path d="M50 440.4 L60 443.1 L70 444.9 L80 448.1 L90 445.6 L100 446.9 L110 446.9 L120 447.4 L130 425.2 L140 401.3 L150 381.6 L160 383.1 L170 377.6 L180 375.5 L190 369.3 L200 363.4 L210 362.1 L220 361.0 L230 369.0 L240 371.0 L250 375.8 L260 383.8 L270 388.4 L280 386.9 L290 388.2 L300 391.5 L310 393.3 L320 383.6 L330 386.3 L340 387.7 L350 397.6 L360 397.8 L370 397.8 L380 397.8 L390 397.2 L400 396.1 L410 394.7 L420 395.6 L430 397.7 L440 400.6 L450 402.7 L460 403.1 L470 405.9 L480 407.2 L490 410.9 L500 413.7 L510 415.4 L520 416.9 L530 418.2 L540 419.4 L550 420.3 L560 419.7 L570 413.4 L580 421.0 L590 425.2 L600 427.1 L610 428.6 L620 421.5 L630 433.2 L640 430.3 L650 430.8 L660 434.5 L670 435.7 L680 428.7 L690 433.9" stroke="#E5A555" marker-start="url(#k10)" marker-mid="url(#k10)" marker-end="url(#k10)"/>
<path d="M60 544.6 L70 544.6 L80 544.6 L90 544.6 L100 544.6 L110 544.6 L120 544.6 L130 544.6 L140 544.6 L150 544.6 L160 544.6 L170 544.6 L180 544.6 L190 544.6 L200 544.6 L210 544.6 L220 544.6 L230 544.6 L240 544.6 L250 544.6 L260 544.6 L270 544.6 L280 544.6 L290 544.6 L300 544.6 L310 544.6 L320 544.6 L330 544.6 L340 544.6 L350 544.6 L360 544.6 L370 544.6 L380 538.6 L390 544.6 L400 541.6 L410 544.6 L420 544.6 L430 544.6 L440 544.6 L450 544.6 L460 533.6 L470 541.6 L480 540.6 L490 543.0 L500 533.7 L510 520.5 L520 418.0 L530 535.7 L540 543.0 L550 538.6 L560 533.6 L570 544.6 L580 533.6 L590 544.6 L600 544.6 L610 544.6 L620 544.6 L630 544.6 L640 533.6 L650 544.6 L660 544.6 L670 533.6 L680 544.6 L690 544.8" stroke="#E5A555" marker-start="url(#k10)" marker-mid="url(#k10)" marker-end="url(#k10)"/>
<path d="M50 217.7 L60 221.4 L70 238.8 L80 253.6 L90 266.7 L100 286.0 L110 295.0 L120 296.8 L130 273.7 L140 258.5 L150 244.0 L160 227.3 L170 219.5 L180 213.5 L190 209.8 L200 212.3 L210 208.4 L220 206.5 L230 210.0 L240 206.4 L250 209.7 L260 208.5 L270 206.8 L280 201.3 L290 206.3 L300 217.7 L310 230.4 L320 233.0 L330 234.0 L340 237.4 L350 238.7 L360 238.6 L370 237.0 L380 234.5 L390 229.7 L400 228.9 L410 228.3 L420 235.3 L430 239.0 L440 236.1 L450 243.0 L460 251.0 L470 259.5 L480 263.5 L490 266.6 L500 271.6 L510 271.6 L520 267.6 L530 261.0 L540 260.5 L550 255.4 L560 250.0 L570 252.0 L580 258.0 L590 262.0 L600 266.0 L610 270.0 L620 268.0 L630 266.0 L640 262.0 L650 260.0 L660 262.0 L670 258.0 L680 254.0 L690 252.0" stroke="#65501E" marker-start="url(#k11)" marker-mid="url(#k11)" marker-end="url(#k11)"/>
<path d="M50 435.2 L60 438.5 L70 438.7 L80 441.9 L90 442.5 L100 445.0 L110 444.2 L120 440.8 L130 412.7 L140 392.9 L150 375.6 L160 376.7 L170 369.7 L180 372.8 L190 370.1 L200 364.2 L210 363.6 L220 366.6 L230 366.5 L240 365.7 L250 372.6 L260 381.3 L270 387.6 L280 384.3 L290 380.5 L300 388.3 L310 391.8 L320 388.8 L330 389.8 L340 376.7 L350 372.4 L360 369.5 L370 370.5 L380 367.6 L390 371.3 L400 375.1 L410 362.6 L420 357.1 L430 360.1 L440 359.9 L450 361.1 L460 363.8 L470 379.0 L480 382.2 L490 387.2 L500 386.4 L510 383.9 L520 373.1 L530 364.7 L540 365.4 L550 365.7 L560 367.7 L570 372.9 L580 397.0 L590 392.9 L600 393.1 L610 403.6 L620 410.2 L630 416.4 L640 406.5 L650 402.2 L660 399.0 L670 384.3 L680 381.4 L690 391.5" stroke="#65501E" marker-start="url(#k11)" marker-mid="url(#k11)" marker-end="url(#k11)"/>
<path d="M60 544.6 L70 544.6 L80 544.6 L90 544.6 L100 544.6 L110 544.6 L120 544.6 L130 544.6 L140 544.6 L150 544.6 L160 544.6 L170 544.6 L180 544.6 L190 544.6 L200 544.6 L210 544.6 L220 544.6 L230 544.6 L240 544.6 L250 544.6 L260 544.6 L270 544.6 L280 544.6 L290 544.6 L300 544.6 L310 544.6 L320 544.6 L330 544.6 L340 544.6 L350 544.6 L360 544.6 L370 544.6 L380 544.6 L390 544.6 L400 544.6 L410 544.6 L420 544.6 L430 541.6 L440 544.6 L450 544.6 L460 544.6 L470 544.6 L480 544.6 L490 544.6 L500 544.6 L510 544.6 L520 544.6 L530 544.6 L540 541.6 L550 533.6 L560 544.6 L570 538.6 L580 544.6 L590 544.6 L600 544.6 L610 544.6 L620 544.6 L630 542.6 L640 544.6 L650 544.6 L660 544.6 L670 544.6 L680 544.6 L690 544.8" stroke="#65501E" marker-start="url(#k11)" marker-mid="url(#k11)" marker-end="url(#k11)"/>
<path d="M50 217.5 L60 222.6 L70 238.7 L80 251.3 L90 263.3 L100 291.5 L110 300.6 L120 300.5 L130 282.5 L140 267.7 L150 245.5 L160 236.7 L170 221.7 L180 217.9 L190 218.0 L200 214.3 L210 212.6 L220 214.2 L230 202.4 L240 191.4 L250 192.3 L260 195.0 L270 194.0 L280 191.6 L290 194.0 L300 208.7 L310 221.3 L320 219.9 L330 232.6 L340 230.2 L350 236.0 L360 229.4 L370 227.8 L380 234.5 L390 229.8 L400 229.4 L410 234.7 L420 231.7 L430 231.2 L440 219.0 L450 200.1 L460 202.7 L470 197.0 L480 190.9 L490 204.7 L500 212.8 L510 216.9 L520 225.0 L530 237.2 L540 247.3 L550 257.4 L560 269.6 L570 278.2 L580 281.8 L590 282.8 L600 283.8 L610 283.8 L620 282.8 L630 277.7 L640 275.7 L650 271.6 L660 269.6 L670 263.5 L680 257.4 L690 253.4" stroke="#F2641C" marker-start="url(#k12)" marker-mid="url(#k12)" marker-end="url(#k12)"/>
<path d="M50 439.2 L60 444.2 L70 444.5 L80 444.6 L90 448.2 L100 446.3 L110 447.8 L120 443.1 L130 424.2 L140 401.5 L150 381.0 L160 383.6 L170 379.2 L180 375.2 L190 370.7 L200 363.0 L210 359.1 L220 359.1 L230 361.2 L240 366.3 L250 365.0 L260 364.9 L270 368.7 L280 364.6 L290 368.7 L300 369.9 L310 369.9 L320 375.2 L330 371.0 L340 375.3 L350 380.1 L360 377.7 L370 376.9 L380 373.4 L390 369.2 L400 367.0 L410 363.9 L420 367.9 L430 364.7 L440 363.9 L450 372.8 L460 366.0 L470 363.0 L480 364.0 L490 373.9 L500 371.1 L510 371.9 L520 369.1 L530 375.5 L540 387.0 L550 393.7 L560 399.8 L570 402.6 L580 402.4 L590 404.4 L600 413.6 L610 424.5 L620 430.6 L630 435.7 L640 433.7 L650 435.7 L660 431.6 L670 425.5 L680 420.5 L690 419.5" stroke="#F2641C" marker-start="url(#k12)" marker-mid="url(#k12)" marker-end="url(#k12)"/>
<path d="M60 544.6 L70 544.6 L80 544.6 L90 544.6 L100 544.6 L110 544.6 L120 544.6 L130 544.6 L140 544.6 L150 544.6 L160 544.6 L170 544.6 L180 544.6 L190 544.6 L200 544.6 L210 544.6 L220 544.6 L230 544.6 L240 544.6 L250 544.6 L260 544.6 L270 544.6 L280 544.6 L290 544.6 L300 544.6 L310 544.6 L320 544.6 L330 544.6 L340 544.6 L350 544.6 L360 543.0 L370 531.6 L380 538.0 L390 543.0 L400 544.6 L410 544.6 L420 533.6 L430 544.6 L440 543.0 L450 525.0 L460 492.0 L470 535.7 L480 543.0 L490 536.6 L500 544.6 L510 544.6 L520 544.6 L530 536.6 L540 544.6 L550 544.6 L560 540.6 L570 538.6 L580 544.6 L590 544.6 L600 544.6 L610 544.6 L620 540.6 L630 544.6 L640 541.6 L650 544.6 L660 544.6 L670 544.6 L680 544.6 L690 544.8" stroke="#F2641C" marker-start="url(#k12)" marker-mid="url(#k12)" marker-end="url(#k12)"/>
<path d="M50 219.8 L60 223.4 L70 239.3 L80 247.4 L90 261.7 L100 281.6 L110 292.6 L120 295.5 L130 273.6 L140 256.8 L150 242.0 L160 231.9 L170 224.0 L180 217.8 L190 210.0 L200 208.2 L210 210.0 L220 212.9 L230 208.0 L240 202.6 L250 207.5 L260 209.2 L270 216.9 L280 213.8 L290 215.8 L300 226.8 L310 223.2 L320 225.5 L330 232.2 L340 229.3 L350 229.3 L360 224.2 L370 218.8 L380 207.6 L390 204.0 L400 215.2 L410 217.8 L420 214.3 L430 209.0 L440 200.1 L450 191.8 L460 196.9 L470 192.8 L480 193.9 L490 196.1 L500 212.9 L510 210.6 L520 213.1 L530 214.0 L540 223.8 L550 225.7 L560 247.5 L570 262.6 L580 265.1 L590 253.2 L600 259.9 L610 265.9 L620 268.0 L630 276.5 L640 267.3 L650 275.6 L660 270.3 L670 275.8 L680 291.1 L690 272.5" stroke="#D1BE76" marker-start="url(#k13)" marker-mid="url(#k13)" marker-end="url(#k13)"/>
<path d="M50 438.3 L60 441.3 L70 439.7 L80 443.5 L90 443.7 L100 443.5 L110 443.2 L120 439.4 L130 401.9 L140 382.6 L150 369.3 L160 369.2 L170 365.2 L180 364.2 L190 363.5 L200 361.6 L210 359.3 L220 358.6 L230 365.5 L240 366.9 L250 368.4 L260 368.8 L270 372.4 L280 374.0 L290 377.0 L300 374.2 L310 375.4 L320 374.6 L330 378.0 L340 381.1 L350 375.7 L360 380.4 L370 375.5 L380 369.3 L390 370.4 L400 365.4 L410 375.6 L420 370.9 L430 376.9 L440 379.4 L450 377.3 L460 379.0 L470 370.2 L480 364.0 L490 369.6 L500 378.2 L510 382.4 L520 385.2 L530 380.2 L540 373.8 L550 396.1 L560 386.6 L570 388.7 L580 384.9 L590 383.6 L600 376.8 L610 382.0 L620 372.8 L630 377.2 L640 371.2 L650 372.0 L660 382.8 L670 384.7 L680 392.5 L690 396.6" stroke="#D1BE76" marker-start="url(#k13)" marker-mid="url(#k13)" marker-end="url(#k13)"/>
<path d="M60 544.6 L70 544.6 L80 544.6 L90 541.6 L100 543.6 L110 544.6 L120 544.6 L130 544.6 L140 544.6 L150 544.6 L160 544.6 L170 544.6 L180 544.6 L190 544.6 L200 544.6 L210 544.6 L220 544.6 L230 544.6 L240 544.6 L250 544.6 L260 544.6 L270 544.6 L280 544.6 L290 544.6 L300 544.6 L310 544.6 L320 544.6 L330 544.6 L340 544.6 L350 544.6 L360 544.6 L370 544.6 L380 544.6 L390 544.6 L400 544.6 L410 544.6 L420 544.6 L430 543.0 L440 537.7 L450 464.7 L460 539.7 L470 544.6 L480 544.6 L490 544.6 L500 544.6 L510 544.6 L520 544.6 L530 544.6 L540 543.0 L550 531.6 L560 508.3 L570 531.6 L580 543.0 L590 544.6 L600 544.6 L610 544.6 L620 544.6 L630 542.6 L640 544.6 L650 544.6 L660 530.6 L670 544.6 L680 544.6 L690 544.8" stroke="#D1BE76" marker-start="url(#k13)" marker-mid="url(#k13)" marker-end="url(#k13)"/>
<path d="M50 216.1 L60 220.7 L70 238.3 L80 249.6 L90 267.6 L100 290.0 L110 297.9 L120 302.0 L130 298.7 L140 290.7 L150 268.8 L160 255.3 L170 245.5 L180 236.0 L190 226.0 L200 218.0 L210 214.0 L220 210.6 L230 201.4 L240 204.7 L250 206.2 L260 218.9 L270 223.2 L280 223.2 L290 219.8 L300 218.4 L310 218.9 L320 218.9 L330 229.6 L340 228.5 L350 232.0 L360 227.1 L370 218.3 L380 215.0 L390 218.9 L400 215.3 L410 205.3 L420 200.7 L430 207.0 L440 213.0 L450 219.0 L460 225.0 L470 231.0 L480 239.0 L490 245.3 L500 251.4 L510 257.4 L520 263.5 L530 267.6 L540 271.6 L550 277.7 L560 283.8 L570 288.8 L580 295.0 L590 298.0 L600 297.0 L610 295.0 L620 292.0 L630 289.9 L640 283.8 L650 279.7 L660 282.8 L670 283.8 L680 273.7 L690 271.6" stroke="#0AD558" marker-start="url(#k14)" marker-mid="url(#k14)" marker-end="url(#k14)"/>
<path d="M50 437.1 L60 442.3 L70 445.0 L80 444.4 L90 444.0 L100 445.1 L110 445.9 L120 440.4 L130 436.4 L140 418.0 L150 402.0 L160 380.0 L170 374.0 L180 370.0 L190 367.2 L200 364.3 L210 364.2 L220 368.6 L230 366.8 L240 371.2 L250 372.2 L260 374.7 L270 378.2 L280 372.1 L290 371.7 L300 368.9 L310 369.5 L320 372.4 L330 377.7 L340 372.7 L350 379.8 L360 376.6 L370 377.3 L380 378.7 L390 374.1 L400 372.3 L410 367.3 L420 364.5 L430 369.4 L440 375.3 L450 378.5 L460 387.4 L470 400.4 L480 406.6 L490 400.2 L500 390.1 L510 393.3 L520 391.8 L530 393.1 L540 388.3 L550 399.2 L560 411.7 L570 419.4 L580 402.6 L590 413.4 L600 412.3 L610 428.5 L620 430.6 L630 433.1 L640 432.5 L650 429.0 L660 429.9 L670 436.3 L680 406.9 L690 414.9" stroke="#0AD558" marker-start="url(#k14)" marker-mid="url(#k14)" marker-end="url(#k14)"/>
<path d="M60 544.6 L70 544.6 L80 544.6 L90 542.0 L100 532.5 L110 541.0 L120 544.6 L130 544.6 L140 544.6 L150 544.6 L160 544.6 L170 544.6 L180 544.6 L190 544.6 L200 544.6 L210 544.6 L220 544.6 L230 544.6 L240 544.6 L250 544.6 L260 544.6 L270 544.6 L280 544.6 L290 544.6 L300 544.6 L310 544.6 L320 544.6 L330 544.6 L340 544.6 L350 544.6 L360 544.6 L370 544.6 L380 533.6 L390 544.6 L400 538.6 L410 544.6 L420 544.6 L430 544.6 L440 544.6 L450 544.6 L460 544.6 L470 544.6 L480 542.6 L490 544.6 L500 544.6 L510 544.6 L520 544.6 L530 544.6 L540 544.6 L550 544.6 L560 544.6 L570 544.6 L580 544.6 L590 544.6 L600 544.6 L610 540.6 L620 544.6 L630 544.6 L640 544.6 L650 544.6 L660 540.6 L670 544.6 L680 544.6 L690 544.8" stroke="#0AD558" marker-start="url(#k14)" marker-mid="url(#k14)" marker-end="url(#k14)"/>
<path d="M50 218.4 L60 225.1 L70 245.1 L80 254.7 L90 266.7 L100 282.5 L110 293.3 L120 296.0 L130 273.4 L140 256.1 L150 240.2 L160 222.9 L170 224.6 L180 219.3 L190 217.8 L200 217.7 L210 212.4 L220 212.2 L230 204.8 L240 206.4 L250 208.0 L260 214.3 L270 220.5 L280 220.7 L290 225.1 L300 226.5 L310 232.5 L320 233.5 L330 222.6 L340 217.7 L350 213.1 L360 210.1 L370 214.3 L380 229.7 L390 232.2 L400 231.7 L410 220.4 L420 219.6 L430 217.9 L440 218.9 L450 220.4 L460 227.8 L470 232.1 L480 217.2 L490 221.6 L500 221.5 L510 226.5 L520 238.1 L530 225.4 L540 201.3 L550 199.4 L560 197.6 L570 196.2 L580 193.6 L590 191.6 L600 191.6 L610 197.0 L620 201.7 L630 206.8 L640 209.8 L650 210.8 L660 212.8 L670 212.8 L680 210.8 L690 210.2" stroke="#26425E" marker-start="url(#k15)" marker-mid="url(#k15)" marker-end="url(#k15)"/>
<path d="M50 437.4 L60 439.4 L70 441.8 L80 441.9 L90 443.5 L100 444.6 L110 444.5 L120 438.6 L130 411.0 L140 388.5 L150 368.6 L160 368.3 L170 368.9 L180 367.1 L190 365.0 L200 360.6 L210 355.6 L220 354.9 L230 355.6 L240 357.6 L250 359.4 L260 363.1 L270 364.4 L280 366.0 L290 368.1 L300 368.0 L310 375.4 L320 381.4 L330 380.4 L340 376.4 L350 382.7 L360 395.7 L370 397.1 L380 397.6 L390 395.6 L400 396.3 L410 396.0 L420 396.9 L430 398.5 L440 399.9 L450 403.2 L460 404.5 L470 392.2 L480 375.1 L490 351.6 L500 349.5 L510 348.0 L520 364.7 L530 374.3 L540 378.4 L550 385.6 L560 395.6 L570 382.1 L580 387.1 L590 396.8 L600 385.2 L610 371.4 L620 372.2 L630 373.1 L640 372.4 L650 372.6 L660 386.3 L670 373.8 L680 376.1 L690 378.7" stroke="#26425E" marker-start="url(#k15)" marker-mid="url(#k15)" marker-end="url(#k15)"/>
<path d="M60 544.6 L70 544.6 L80 544.6 L90 544.6 L100 544.6 L110 544.6 L120 544.6 L130 544.6 L140 544.6 L150 544.6 L160 544.6 L170 544.6 L180 544.6 L190 544.6 L200 544.6 L210 544.6 L220 544.6 L230 544.6 L240 544.6 L250 544.6 L260 544.6 L270 544.6 L280 544.6 L290 544.6 L300 544.6 L310 544.6 L320 544.6 L330 544.6 L340 544.6 L350 544.6 L360 543.0 L370 535.7 L380 527.6 L390 530.6 L400 520.5 L410 522.5 L420 539.7 L430 543.0 L440 544.6 L450 544.6 L460 544.6 L470 544.6 L480 544.6 L490 544.6 L500 544.6 L510 544.6 L520 544.6 L530 540.6 L540 544.6 L550 543.0 L560 531.6 L570 505.3 L580 515.4 L590 539.7 L600 544.6 L610 542.6 L620 544.6 L630 544.6 L640 536.6 L650 544.6 L660 544.6 L670 533.6 L680 544.6 L690 544.8" stroke="#26425E" marker-start="url(#k15)" marker-mid="url(#k15)" marker-end="url(#k15)"/>
<path d="M50 216.6 L60 222.2 L70 235.3 L80 249.5 L90 261.5 L100 280.5 L110 290.9 L120 295.3 L130 267.3 L140 253.1 L150 236.4 L160 223.3 L170 214.4 L180 208.0 L190 204.1 L200 208.0 L210 206.4 L220 210.6 L230 208.9 L240 201.9 L250 200.6 L260 210.3 L270 215.6 L280 206.2 L290 205.9 L300 207.3 L310 210.0 L320 217.8 L330 213.1 L340 224.0 L350 228.5 L360 230.1 L370 230.8 L380 224.0 L390 227.9 L400 219.7 L410 221.8 L420 214.8 L430 216.5 L440 209.4 L450 206.8 L460 207.8 L470 230.4 L480 238.3 L490 228.9 L500 238.6 L510 232.8 L520 235.6 L530 239.2 L540 246.6 L550 252.7 L560 256.0 L570 273.0 L580 276.0 L590 275.0 L600 275.0 L610 274.7 L620 277.0 L630 273.0 L640 272.0 L650 274.0 L660 283.4 L670 288.5 L680 298.5 L690 300.6" stroke="#6E7A84" marker-start="url(#k16)" marker-mid="url(#k16)" marker-end="url(#k16)"/>
<path d="M50 438.1 L60 440.5 L70 443.1 L80 443.0 L90 444.1 L100 447.6 L110 448.8 L120 443.4 L130 415.7 L140 394.7 L150 372.3 L160 375.3 L170 371.5 L180 369.9 L190 365.1 L200 362.1 L210 362.6 L220 366.9 L230 368.9 L240 369.9 L250 370.6 L260 373.3 L270 370.0 L280 367.2 L290 367.8 L300 368.2 L310 368.6 L320 368.6 L330 368.6 L340 376.3 L350 383.3 L360 386.9 L370 390.5 L380 393.6 L390 396.6 L400 395.8 L410 395.7 L420 391.4 L430 388.7 L440 384.7 L450 379.3 L460 385.3 L470 387.6 L480 400.5 L490 391.8 L500 402.8 L510 405.1 L520 410.8 L530 418.2 L540 419.3 L550 411.3 L560 403.8 L570 402.4 L580 386.0 L590 384.7 L600 386.9 L610 402.1 L620 427.6 L630 426.6 L640 427.6 L650 430.6 L660 435.7 L670 443.8 L680 439.7 L690 440.8" stroke="#6E7A84" marker-start="url(#k16)" marker-mid="url(#k16)" marker-end="url(#k16)"/>
<path d="M60 544.6 L70 544.6 L80 544.6 L90 544.6 L100 544.6 L110 544.6 L120 544.6 L130 544.6 L140 544.6 L150 544.6 L160 544.6 L170 544.6 L180 544.6 L190 544.6 L200 544.6 L210 544.6 L220 544.6 L230 544.6 L240 544.6 L250 544.6 L260 544.6 L270 544.6 L280 544.6 L290 544.6 L300 544.6 L310 544.6 L320 544.6 L330 544.6 L340 544.6 L350 544.6 L360 544.6 L370 544.6 L380 544.6 L390 544.6 L400 544.6 L410 544.6 L420 541.6 L430 544.6 L440 543.0 L450 527.0 L460 525.5 L470 489.0 L480 500.0 L490 400.0 L500 477.0 L510 533.7 L520 495.0 L530 511.0 L540 527.6 L550 539.7 L560 543.0 L570 544.6 L580 544.6 L590 541.6 L600 533.6 L610 544.6 L620 544.6 L630 544.6 L640 544.6 L650 544.6 L660 544.6 L670 544.6 L680 544.6 L690 544.8" stroke="#6E7A84" marker-start="url(#k16)" marker-mid="url(#k16)" marker-end="url(#k16)"/>
<path d="M50 214.9 L60 220.3 L70 234.7 L80 247.9 L90 259.8 L100 284.2 L110 296.8 L120 293.0 L130 272.6 L140 262.0 L150 246.9 L160 240.0 L170 246.0 L180 238.0 L190 229.0 L200 224.0 L210 227.6 L220 229.4 L230 230.3 L240 230.0 L250 226.0 L260 226.4 L270 224.0 L280 218.0 L290 214.0 L300 222.8 L310 225.0 L320 233.5 L330 234.2 L340 236.8 L350 239.2 L360 238.4 L370 236.6 L380 230.5 L390 237.4 L400 233.2 L410 234.4 L420 234.5 L430 227.1 L440 223.8 L450 216.5 L460 217.7 L470 222.3 L480 219.7 L490 226.3 L500 234.2 L510 230.8 L520 225.9 L530 214.6 L540 220.6 L550 236.2 L560 227.0 L570 227.9 L580 222.0 L590 223.9 L600 241.9 L610 245.7 L620 261.7 L630 280.0 L640 276.6 L650 266.0 L660 257.1 L670 277.1 L680 254.0 L690 237.0" stroke="#E878F0" marker-start="url(#k17)" marker-mid="url(#k17)" marker-end="url(#k17)"/>
<path d="M50 439.1 L60 442.9 L70 443.7 L80 445.5 L90 446.1 L100 443.9 L110 443.4 L120 439.4 L130 413.3 L140 396.2 L150 372.0 L160 378.8 L170 375.4 L180 373.9 L190 377.9 L200 369.8 L210 365.9 L220 365.4 L230 366.0 L240 370.5 L250 373.2 L260 382.5 L270 388.5 L280 389.0 L290 381.4 L300 388.2 L310 380.5 L320 376.5 L330 376.8 L340 383.8 L350 385.9 L360 375.3 L370 373.0 L380 367.9 L390 373.0 L400 370.7 L410 367.8 L420 378.3 L430 382.2 L440 386.1 L450 386.8 L460 383.0 L470 373.7 L480 381.2 L490 380.8 L500 367.2 L510 376.8 L520 379.8 L530 384.6 L540 394.9 L550 393.9 L560 377.0 L570 378.4 L580 390.8 L590 391.3 L600 391.5 L610 389.7 L620 386.7 L630 392.2 L640 384.7 L650 394.1 L660 402.9 L670 388.9 L680 383.3 L690 379.6" stroke="#E878F0" marker-start="url(#k17)" marker-mid="url(#k17)" marker-end="url(#k17)"/>
<path d="M60 544.6 L70 544.6 L80 544.6 L90 544.6 L100 544.6 L110 544.6 L120 544.6 L130 544.6 L140 544.6 L150 544.6 L160 544.6 L170 544.6 L180 544.6 L190 544.6 L200 544.6 L210 544.6 L220 544.6 L230 544.6 L240 544.6 L250 544.6 L260 544.6 L270 544.6 L280 544.6 L290 544.6 L300 544.6 L310 544.6 L320 544.6 L330 544.6 L340 544.6 L350 544.6 L360 544.6 L370 544.6 L380 544.6 L390 533.6 L400 544.6 L410 544.6 L420 540.6 L430 540.6 L440 536.6 L450 544.6 L460 544.6 L470 544.6 L480 544.6 L490 544.6 L500 544.6 L510 544.6 L520 544.6 L530 544.6 L540 544.6 L550 544.6 L560 530.6 L570 544.6 L580 538.6 L590 544.6 L600 544.6 L610 544.6 L620 544.6 L630 544.6 L640 544.6 L650 544.6 L660 544.6 L670 542.6 L680 538.6 L690 544.8" stroke="#E878F0" marker-start="url(#k17)" marker-mid="url(#k17)" marker-end="url(#k17)"/>
<path d="M50 215.8 L60 220.1 L70 233.6 L80 241.0 L90 255.6 L100 276.0 L110 286.4 L120 282.3 L130 268.0 L140 255.0 L150 239.2 L160 229.6 L170 226.3 L180 225.3 L190 221.1 L200 211.6 L210 209.6 L220 208.5 L230 198.8 L240 200.7 L250 210.5 L260 207.2 L270 204.0 L280 201.1 L290 205.9 L300 209.5 L310 210.3 L320 205.7 L330 195.6 L340 189.5 L350 186.5 L360 185.5 L370 187.0 L380 198.6 L390 208.8 L400 212.0 L410 217.0 L420 216.5 L430 216.5 L440 215.5 L450 220.8 L460 219.4 L470 218.6 L480 220.4 L490 218.6 L500 228.2 L510 224.8 L520 225.5 L530 231.0 L540 249.2 L550 242.0 L560 268.7 L570 272.2 L580 277.0 L590 280.0 L600 273.2 L610 256.9 L620 232.5 L630 242.6 L640 233.0 L650 233.0 L660 235.0 L670 238.0 L680 237.6 L690 239.0" stroke="#8020F0" marker-start="url(#k18)" marker-mid="url(#k18)" marker-end="url(#k18)"/>
<path d="M50 438.5 L60 441.5 L70 441.6 L80 440.8 L90 444.7 L100 445.8 L110 445.7 L120 443.4 L130 418.7 L140 392.7 L150 371.0 L160 373.3 L170 366.9 L180 361.7 L190 359.5 L200 355.6 L210 356.0 L220 361.5 L230 361.6 L240 363.4 L250 369.3 L260 371.7 L270 373.2 L280 373.4 L290 372.0 L300 371.8 L310 375.2 L320 379.8 L330 374.3 L340 369.3 L350 366.5 L360 368.6 L370 368.5 L380 372.4 L390 373.8 L400 375.0 L410 371.0 L420 366.6 L430 369.5 L440 377.0 L450 391.6 L460 392.8 L470 395.8 L480 386.6 L490 383.7 L500 375.6 L510 381.9 L520 396.6 L530 388.6 L540 400.3 L550 395.2 L560 403.6 L570 409.2 L580 387.2 L590 386.9 L600 370.8 L610 370.4 L620 374.9 L630 376.9 L640 374.9 L650 380.0 L660 381.0 L670 385.0 L680 388.0 L690 390.0" stroke="#8020F0" marker-start="url(#k18)" marker-mid="url(#k18)" marker-end="url(#k18)"/>
<path d="M60 544.6 L70 544.6 L80 544.6 L90 541.0 L100 498.0 L110 536.0 L120 543.0 L130 544.6 L140 544.6 L150 544.6 L160 544.6 L170 544.6 L180 544.6 L190 544.6 L200 544.6 L210 544.6 L220 544.6 L230 544.6 L240 544.6 L250 544.6 L260 544.6 L270 544.6 L280 544.6 L290 544.6 L300 544.6 L310 544.6 L320 544.6 L330 544.6 L340 544.6 L350 544.6 L360 544.6 L370 544.6 L380 544.6 L390 544.6 L400 544.6 L410 536.6 L420 544.6 L430 544.6 L440 544.6 L450 544.6 L460 544.6 L470 544.6 L480 536.6 L490 536.6 L500 544.6 L510 544.6 L520 544.6 L530 530.6 L540 544.6 L550 544.6 L560 544.6 L570 544.6 L580 544.6 L590 544.6 L600 544.6 L610 544.6 L620 544.6 L630 544.6 L640 533.6 L650 544.6 L660 544.6 L670 544.6 L680 544.6 L690 544.8" stroke="#8020F0" marker-start="url(#k18)" marker-mid="url(#k18)" marker-end="url(#k18)"/>
<path d="M50 218.8 L60 223.7 L70 242.7 L80 249.0 L90 273.7 L100 293.3 L110 305.4 L120 306.3 L130 288.1 L140 271.0 L150 256.1 L160 243.6 L170 237.3 L180 231.4 L190 227.6 L200 226.0 L210 217.5 L220 220.3 L230 210.5 L240 203.4 L250 206.4 L260 202.2 L270 197.9 L280 192.6 L290 198.6 L300 195.6 L310 193.6 L320 190.0 L330 193.6 L340 193.6 L350 192.6 L360 190.5 L370 193.6 L380 207.3 L390 195.7 L400 196.8 L410 210.3 L420 219.6 L430 222.9 L440 228.8 L450 225.9 L460 235.7 L470 226.8 L480 230.0 L490 236.5 L500 228.7 L510 242.3 L520 254.5 L530 255.0 L540 248.7 L550 243.9 L560 246.1 L570 260.0 L580 249.3 L590 246.6 L600 249.5 L610 247.4 L620 225.8 L630 238.9 L640 238.6 L650 228.8 L660 223.4 L670 217.4 L680 217.6 L690 222.2" stroke="#806030" marker-start="url(#k19)" marker-mid="url(#k19)" marker-end="url(#k19)"/>
<path d="M50 439.8 L60 441.0 L70 442.9 L80 443.1 L90 443.2 L100 442.4 L110 446.1 L120 441.7 L130 416.3 L140 385.5 L150 370.1 L160 369.4 L170 366.0 L180 366.6 L190 359.8 L200 349.5 L210 347.5 L220 350.5 L230 355.5 L240 361.2 L250 364.5 L260 374.4 L270 375.8 L280 370.5 L290 373.3 L300 370.9 L310 367.7 L320 364.7 L330 363.7 L340 366.8 L350 369.8 L360 360.3 L370 363.7 L380 364.7 L390 366.1 L400 363.4 L410 366.0 L420 373.5 L430 378.2 L440 375.0 L450 376.8 L460 368.6 L470 371.9 L480 371.4 L490 372.3 L500 380.4 L510 388.9 L520 391.3 L530 390.4 L540 361.8 L550 369.8 L560 359.7 L570 347.5 L580 353.0 L590 361.0 L600 376.9 L610 385.0 L620 388.0 L630 387.0 L640 383.4 L650 391.7 L660 392.7 L670 405.0 L680 402.0 L690 400.7" stroke="#806030" marker-start="url(#k19)" marker-mid="url(#k19)" marker-end="url(#k19)"/>
<path d="M60 544.6 L70 544.6 L80 544.6 L90 543.0 L100 540.0 L110 543.0 L120 544.6 L130 544.6 L140 544.6 L150 544.6 L160 544.6 L170 544.6 L180 544.6 L190 544.6 L200 544.6 L210 544.6 L220 544.6 L230 544.6 L240 544.6 L250 544.6 L260 544.6 L270 544.6 L280 544.6 L290 544.6 L300 544.6 L310 544.6 L320 544.6 L330 544.6 L340 544.6 L350 544.6 L360 544.6 L370 544.6 L380 544.6 L390 543.0 L400 531.6 L410 487.6 L420 515.4 L430 529.6 L440 541.0 L450 544.6 L460 544.6 L470 544.6 L480 544.6 L490 536.6 L500 544.6 L510 544.6 L520 538.6 L530 544.6 L540 544.6 L550 544.6 L560 544.6 L570 544.6 L580 544.6 L590 544.6 L600 544.6 L610 544.6 L620 544.6 L630 544.6 L640 544.6 L650 544.6 L660 544.6 L670 542.6 L680 544.6 L690 544.8" stroke="#806030" marker-start="url(#k19)" marker-mid="url(#k19)" marker-end="url(#k19)"/>
<path d="M50 219.2 L60 226.2 L70 242.5 L80 254.9 L90 267.6 L100 284.5 L110 293.6 L120 298.3 L130 277.6 L140 264.0 L150 245.1 L160 234.3 L170 233.4 L180 227.9 L190 224.8 L200 216.5 L210 208.2 L220 200.0 L230 192.5 L240 186.0 L250 191.3 L260 194.0 L270 198.0 L280 204.1 L290 216.7 L300 230.1 L310 232.2 L320 223.1 L330 223.4 L340 229.8 L350 235.9 L360 228.6 L370 226.1 L380 228.4 L390 218.9 L400 214.7 L410 222.3 L420 236.2 L430 236.9 L440 237.1 L450 240.3 L460 242.7 L470 246.6 L480 242.8 L490 240.6 L500 245.3 L510 239.9 L520 245.4 L530 250.8 L540 248.6 L550 255.3 L560 245.3 L570 249.3 L580 255.4 L590 265.5 L600 272.6 L610 267.6 L620 247.3 L630 235.0 L640 224.0 L650 218.9 L660 231.0 L670 240.0 L680 246.0 L690 250.0" stroke="#380870" marker-start="url(#k20)" marker-mid="url(#k20)" marker-end="url(#k20)"/>
<path d="M50 438.3 L60 439.8 L70 442.1 L80 440.6 L90 441.0 L100 442.3 L110 441.7 L120 437.7 L130 399.9 L140 382.1 L150 367.3 L160 372.9 L170 367.6 L180 363.5 L190 362.7 L200 360.5 L210 353.8 L220 356.7 L230 357.3 L240 359.4 L250 362.7 L260 368.1 L270 377.2 L280 372.6 L290 375.5 L300 385.1 L310 385.7 L320 383.6 L330 387.6 L340 387.6 L350 387.7 L360 386.3 L370 378.7 L380 376.9 L390 373.6 L400 379.6 L410 372.0 L420 375.3 L430 370.5 L440 367.5 L450 365.4 L460 361.2 L470 361.8 L480 364.3 L490 365.6 L500 365.2 L510 366.2 L520 365.7 L530 364.9 L540 366.5 L550 365.8 L560 365.9 L570 375.6 L580 367.8 L590 379.2 L600 386.7 L610 391.5 L620 418.7 L630 424.2 L640 401.7 L650 406.4 L660 408.7 L670 417.6 L680 418.7 L690 436.4" stroke="#380870" marker-start="url(#k20)" marker-mid="url(#k20)" marker-end="url(#k20)"/>
<path d="M60 544.6 L70 544.6 L80 544.6 L90 541.6 L100 542.6 L110 543.6 L120 544.6 L130 544.6 L140 544.6 L150 544.6 L160 544.6 L170 544.6 L180 544.6 L190 544.6 L200 544.6 L210 544.6 L220 544.6 L230 544.6 L240 544.6 L250 544.6 L260 544.6 L270 544.6 L280 544.6 L290 544.6 L300 544.6 L310 544.6 L320 544.6 L330 544.6 L340 544.6 L350 544.6 L360 544.6 L370 544.6 L380 543.0 L390 537.0 L400 527.0 L410 541.0 L420 544.6 L430 544.6 L440 544.6 L450 544.6 L460 544.6 L470 544.6 L480 539.7 L490 527.6 L500 468.8 L510 466.4 L520 530.6 L530 539.7 L540 533.6 L550 536.6 L560 544.6 L570 544.6 L580 543.0 L590 531.6 L600 509.3 L610 531.6 L620 543.0 L630 544.6 L640 544.6 L650 544.6 L660 544.6 L670 530.6 L680 536.6 L690 544.8" stroke="#380870" marker-start="url(#k20)" marker-mid="url(#k20)" marker-end="url(#k20)"/>
<path d="M50 216.8 L60 220.4 L70 235.3 L80 248.8 L90 259.9 L100 284.6 L110 294.7 L120 296.6 L130 277.6 L140 259.1 L150 239.0 L160 229.4 L170 223.2 L180 217.0 L190 211.5 L200 206.9 L210 203.1 L220 201.3 L230 200.5 L240 199.8 L250 194.4 L260 204.8 L270 205.8 L280 206.0 L290 210.2 L300 219.4 L310 231.9 L320 227.2 L330 224.9 L340 222.0 L350 215.0 L360 205.0 L370 196.0 L380 190.0 L390 184.0 L400 180.4 L410 193.6 L420 198.6 L430 216.9 L440 235.0 L450 247.3 L460 253.4 L470 254.4 L480 244.3 L490 245.3 L500 249.3 L510 252.4 L520 253.4 L530 257.4 L540 264.5 L550 267.6 L560 269.6 L570 270.6 L580 275.7 L590 278.7 L600 279.7 L610 283.4 L620 299.0 L630 305.4 L640 308.6 L650 310.8 L660 311.5 L670 318.0 L680 320.0 L690 316.6" stroke="#F0D010" marker-start="url(#k21)" marker-mid="url(#k21)" marker-end="url(#k21)"/>
<path d="M50 440.4 L60 440.7 L70 442.3 L80 442.2 L90 441.8 L100 442.2 L110 441.3 L120 437.6 L130 400.8 L140 385.9 L150 370.7 L160 372.1 L170 371.2 L180 364.8 L190 359.3 L200 353.5 L210 356.2 L220 360.7 L230 360.8 L240 365.0 L250 370.6 L260 371.8 L270 383.3 L280 381.4 L290 380.9 L300 385.0 L310 383.4 L320 388.5 L330 390.5 L340 393.4 L350 399.9 L360 398.0 L370 404.3 L380 395.0 L390 390.4 L400 389.4 L410 388.0 L420 388.0 L430 375.1 L440 374.2 L450 378.2 L460 383.2 L470 388.3 L480 382.6 L490 378.8 L500 391.0 L510 407.9 L520 419.5 L530 420.5 L540 421.5 L550 422.5 L560 420.5 L570 421.0 L580 423.0 L590 425.5 L600 427.6 L610 431.6 L620 438.7 L630 446.8 L640 442.8 L650 437.7 L660 431.6 L670 433.7 L680 431.6 L690 430.6" stroke="#F0D010" marker-start="url(#k21)" marker-mid="url(#k21)" marker-end="url(#k21)"/>
<path d="M60 544.6 L70 544.6 L80 544.6 L90 544.6 L100 544.6 L110 544.6 L120 544.6 L130 544.6 L140 544.6 L150 544.6 L160 544.6 L170 544.6 L180 544.6 L190 544.6 L200 544.6 L210 544.6 L220 544.6 L230 544.6 L240 544.6 L250 544.6 L260 544.6 L270 544.6 L280 544.6 L290 544.6 L300 544.6 L310 544.6 L320 544.6 L330 544.6 L340 544.6 L350 544.6 L360 544.6 L370 544.6 L380 544.6 L390 544.6 L400 544.6 L410 544.6 L420 544.6 L430 544.6 L440 544.6 L450 544.6 L460 544.6 L470 544.6 L480 533.6 L490 544.6 L500 544.6 L510 541.6 L520 544.6 L530 544.6 L540 544.6 L550 544.6 L560 544.6 L570 544.6 L580 544.6 L590 533.6 L600 544.6 L610 544.6 L620 544.6 L630 540.6 L640 544.6 L650 544.6 L660 544.6 L670 544.6 L680 544.6 L690 544.8" stroke="#F0D010" marker-start="url(#k21)" marker-mid="url(#k21)" marker-end="url(#k21)"/>
<path d="M50 221.0 L60 227.1 L70 245.2 L80 260.6 L90 269.0 L100 288.5 L110 298.5 L120 295.6 L130 273.8 L140 258.2 L150 242.7 L160 234.9 L170 229.8 L180 221.2 L190 218.0 L200 218.3 L210 221.5 L220 219.7 L230 220.0 L240 216.9 L250 217.9 L260 222.5 L270 224.5 L280 223.4 L290 224.6 L300 221.0 L310 218.7 L320 224.3 L330 221.4 L340 221.5 L350 232.0 L360 237.2 L370 231.4 L380 223.8 L390 227.3 L400 221.7 L410 228.3 L420 233.8 L430 232.2 L440 221.2 L450 208.7 L460 203.1 L470 200.5 L480 195.6 L490 199.5 L500 197.7 L510 204.6 L520 211.4 L530 224.7 L540 224.7 L550 223.3 L560 222.5 L570 214.9 L580 212.8 L590 214.0 L600 207.6 L610 223.4 L620 229.8 L630 232.2 L640 239.6 L650 258.8 L660 261.7 L670 264.5 L680 263.3 L690 259.8" stroke="#2868A0" marker-start="url(#k22)" marker-mid="url(#k22)" marker-end="url(#k22)"/>
<path d="M50 437.4 L60 440.0 L70 440.7 L80 442.6 L90 443.7 L100 442.2 L110 442.2 L120 437.9 L130 406.9 L140 382.9 L150 367.6 L160 368.6 L170 364.7 L180 360.9 L190 357.5 L200 352.4 L210 351.2 L220 352.5 L230 359.7 L240 359.3 L250 359.9 L260 366.7 L270 374.2 L280 375.5 L290 374.7 L300 375.9 L310 379.3 L320 385.8 L330 387.9 L340 389.9 L350 393.3 L360 394.3 L370 397.1 L380 393.9 L390 396.7 L400 396.2 L410 395.0 L420 391.3 L430 391.0 L440 400.8 L450 402.7 L460 404.3 L470 404.5 L480 396.9 L490 392.6 L500 382.9 L510 381.6 L520 389.5 L530 393.0 L540 397.3 L550 402.6 L560 414.3 L570 400.0 L580 407.9 L590 423.7 L600 418.6 L610 423.5 L620 427.4 L630 420.5 L640 408.2 L650 395.9 L660 388.0 L670 376.9 L680 368.8 L690 361.7" stroke="#2868A0" marker-start="url(#k22)" marker-mid="url(#k22)" marker-end="url(#k22)"/>
<path d="M60 544.6 L70 544.6 L80 544.6 L90 544.6 L100 544.6 L110 544.6 L120 544.6 L130 544.6 L140 544.6 L150 544.6 L160 544.6 L170 544.6 L180 544.6 L190 544.6 L200 544.6 L210 544.6 L220 544.6 L230 544.6 L240 544.6 L250 544.6 L260 544.6 L270 544.6 L280 544.6 L290 544.6 L300 544.6 L310 544.6 L320 544.6 L330 544.6 L340 544.6 L350 544.6 L360 544.6 L370 544.6 L380 540.6 L390 542.6 L400 544.6 L410 544.6 L420 544.6 L430 542.6 L440 544.6 L450 544.6 L460 544.6 L470 544.6 L480 544.6 L490 544.6 L500 544.6 L510 544.6 L520 544.6 L530 544.6 L540 544.6 L550 544.6 L560 544.6 L570 540.6 L580 530.6 L590 544.6 L600 541.6 L610 530.6 L620 544.6 L630 544.6 L640 544.6 L650 544.6 L660 544.6 L670 544.6 L680 544.6 L690 544.8" stroke="#2868A0" marker-start="url(#k22)" marker-mid="url(#k22)" marker-end="url(#k22)"/>
<path d="M50 215.3 L60 220.0 L70 236.6 L80 248.2 L90 269.5 L100 291.7 L110 296.8 L120 299.8 L130 278.4 L140 264.1 L150 257.0 L160 243.2 L170 237.3 L180 232.0 L190 228.2 L200 219.5 L210 221.0 L220 224.8 L230 220.4 L240 217.1 L250 218.0 L260 218.7 L270 220.3 L280 212.5 L290 207.8 L300 211.2 L310 221.3 L320 229.2 L330 234.2 L340 232.8 L350 226.8 L360 226.4 L370 217.0 L380 214.7 L390 208.5 L400 225.7 L410 236.8 L420 230.0 L430 235.0 L440 244.0 L450 249.0 L460 259.5 L470 264.5 L480 263.5 L490 267.6 L500 275.7 L510 279.7 L520 275.7 L530 275.0 L540 272.0 L550 272.0 L560 274.0 L570 272.0 L580 276.0 L590 278.0 L600 280.0 L610 277.7 L620 271.6 L630 276.7 L640 276.7 L650 273.7 L660 283.8 L670 279.7 L680 267.6 L690 260.5" stroke="#905820" marker-start="url(#k23)" marker-mid="url(#k23)" marker-end="url(#k23)"/>
<path d="M50 434.6 L60 439.9 L70 441.6 L80 442.3 L90 442.2 L100 444.0 L110 444.6 L120 440.7 L130 408.8 L140 393.1 L150 373.1 L160 374.4 L170 371.0 L180 374.8 L190 370.5 L200 365.0 L210 360.6 L220 366.7 L230 367.2 L240 365.4 L250 369.8 L260 383.3 L270 387.3 L280 385.9 L290 383.2 L300 383.0 L310 390.9 L320 388.3 L330 391.3 L340 383.0 L350 382.7 L360 374.5 L370 378.1 L380 372.7 L390 386.1 L400 390.9 L410 385.7 L420 385.1 L430 380.8 L440 376.6 L450 388.5 L460 391.0 L470 407.3 L480 407.3 L490 419.5 L500 426.6 L510 421.5 L520 413.4 L530 407.3 L540 412.2 L550 413.3 L560 395.5 L570 392.5 L580 401.1 L590 404.0 L600 400.4 L610 401.4 L620 399.6 L630 390.7 L640 409.5 L650 419.4 L660 431.6 L670 439.7 L680 441.8 L690 443.8" stroke="#905820" marker-start="url(#k23)" marker-mid="url(#k23)" marker-end="url(#k23)"/>
<path d="M60 544.6 L70 544.6 L80 544.6 L90 544.6 L100 544.6 L110 542.6 L120 544.6 L130 544.6 L140 544.6 L150 544.6 L160 544.6 L170 544.6 L180 544.6 L190 544.6 L200 544.6 L210 544.6 L220 544.6 L230 544.6 L240 544.6 L250 544.6 L260 544.6 L270 544.6 L280 544.6 L290 544.6 L300 544.6 L310 544.6 L320 544.6 L330 544.6 L340 544.6 L350 544.6 L360 544.6 L370 544.6 L380 536.6 L390 544.6 L400 540.6 L410 544.6 L420 544.6 L430 544.6 L440 544.6 L450 530.6 L460 533.6 L470 544.6 L480 544.6 L490 530.6 L500 540.6 L510 544.6 L520 544.6 L530 544.6 L540 540.6 L550 544.6 L560 544.6 L570 544.6 L580 544.6 L590 533.6 L600 533.6 L610 544.6 L620 530.6 L630 544.6 L640 544.6 L650 544.6 L660 544.6 L670 544.6 L680 538.6 L690 544.8" stroke="#905820" marker-start="url(#k23)" marker-mid="url(#k23)" marker-end="url(#k23)"/>
<path d="M50 218.0 L60 221.3 L70 233.5 L80 248.8 L90 262.0 L100 283.1 L110 289.8 L120 292.8 L130 269.1 L140 250.9 L150 235.0 L160 221.5 L170 214.4 L180 207.8 L190 202.9 L200 199.4 L210 200.8 L220 205.7 L230 200.6 L240 189.0 L250 188.4 L260 198.8 L270 200.9 L280 200.1 L290 209.9 L300 217.8 L310 223.6 L320 225.3 L330 219.1 L340 231.6 L350 227.3 L360 230.4 L370 236.2 L380 237.6 L390 237.7 L400 235.4 L410 235.6 L420 235.7 L430 236.8 L440 236.7 L450 239.6 L460 242.9 L470 242.9 L480 242.1 L490 250.1 L500 232.5 L510 233.4 L520 255.4 L530 259.7 L540 260.5 L550 241.2 L560 241.2 L570 249.3 L580 252.4 L590 254.4 L600 255.4 L610 255.4 L620 269.6 L630 289.9 L640 300.0 L650 312.0 L660 325.0 L670 321.0 L680 314.0 L690 299.0" stroke="#9888E8" marker-start="url(#k24)" marker-mid="url(#k24)" marker-end="url(#k24)"/>
<path d="M50 436.5 L60 439.2 L70 439.4 L80 443.5 L90 442.4 L100 445.6 L110 444.6 L120 442.0 L130 417.2 L140 390.2 L150 369.3 L160 374.4 L170 371.5 L180 368.4 L190 363.6 L200 356.7 L210 354.1 L220 353.1 L230 354.5 L240 359.2 L250 359.0 L260 363.3 L270 369.1 L280 367.5 L290 368.7 L300 374.4 L310 380.3 L320 383.2 L330 381.8 L340 383.0 L350 382.7 L360 373.9 L370 370.7 L380 373.6 L390 375.4 L400 379.3 L410 378.9 L420 385.1 L430 391.0 L440 407.3 L450 407.8 L460 415.4 L470 420.5 L480 421.5 L490 426.6 L500 426.6 L510 426.6 L520 421.5 L530 409.3 L540 402.0 L550 398.0 L560 389.9 L570 398.3 L580 422.4 L590 424.6 L600 427.6 L610 411.1 L620 412.6 L630 418.0 L640 422.7 L650 409.1 L660 429.0 L670 435.0 L680 433.2 L690 436.0" stroke="#9888E8" marker-start="url(#k24)" marker-mid="url(#k24)" marker-end="url(#k24)"/>
<path d="M60 544.6 L70 544.6 L80 544.6 L90 544.6 L100 544.6 L110 544.6 L120 544.6 L130 544.6 L140 544.6 L150 544.6 L160 544.6 L170 544.6 L180 544.6 L190 544.6 L200 544.6 L210 544.6 L220 544.6 L230 544.6 L240 544.6 L250 544.6 L260 544.6 L270 544.6 L280 544.6 L290 544.6 L300 544.6 L310 544.6 L320 544.6 L330 544.6 L340 544.6 L350 544.6 L360 544.6 L370 544.6 L380 543.0 L390 527.6 L400 504.3 L410 513.4 L420 523.5 L430 535.0 L440 543.0 L450 544.6 L460 544.6 L470 544.6 L480 544.6 L490 544.6 L500 544.6 L510 544.6 L520 544.6 L530 544.6 L540 533.6 L550 544.6 L560 540.6 L570 533.6 L580 544.6 L590 544.6 L600 544.6 L610 544.6 L620 530.6 L630 541.6 L640 530.6 L650 544.6 L660 544.6 L670 533.6 L680 544.6 L690 544.8" stroke="#9888E8" marker-start="url(#k24)" marker-mid="url(#k24)" marker-end="url(#k24)"/>
<path d="M50 217.8 L60 222.2 L70 238.6 L80 252.1 L90 262.1 L100 283.1 L110 292.4 L120 299.0 L130 281.2 L140 266.2 L150 252.3 L160 238.9 L170 228.7 L180 222.1 L190 214.8 L200 209.8 L210 209.1 L220 207.8 L230 202.1 L240 198.6 L250 200.0 L260 205.9 L270 203.8 L280 209.9 L290 208.8 L300 216.5 L310 215.8 L320 208.6 L330 210.1 L340 201.6 L350 211.1 L360 213.9 L370 215.1 L380 214.9 L390 220.4 L400 211.1 L410 223.0 L420 225.9 L430 228.2 L440 226.0 L450 233.0 L460 240.0 L470 247.3 L480 245.3 L490 251.4 L500 260.5 L510 267.6 L520 270.6 L530 271.6 L540 273.7 L550 272.6 L560 270.6 L570 271.6 L580 271.2 L590 271.6 L600 271.6 L610 269.6 L620 263.5 L630 257.4 L640 251.4 L650 249.3 L660 247.3 L670 245.3 L680 246.0 L690 247.0" stroke="#A0F040" marker-start="url(#k25)" marker-mid="url(#k25)" marker-end="url(#k25)"/>
<path d="M50 436.6 L60 439.2 L70 440.1 L80 440.8 L90 445.8 L100 446.6 L110 446.1 L120 441.7 L130 412.4 L140 391.7 L150 374.1 L160 370.3 L170 367.4 L180 364.6 L190 363.9 L200 359.7 L210 358.9 L220 359.4 L230 364.4 L240 370.9 L250 381.9 L260 390.3 L270 390.0 L280 390.0 L290 396.0 L300 392.0 L310 384.9 L320 377.7 L330 376.3 L340 379.3 L350 389.1 L360 389.6 L370 382.2 L380 381.0 L390 385.2 L400 383.2 L410 379.8 L420 390.1 L430 380.3 L440 376.1 L450 374.9 L460 384.1 L470 388.4 L480 382.1 L490 379.3 L500 369.4 L510 366.8 L520 365.9 L530 365.8 L540 366.1 L550 366.0 L560 364.4 L570 364.4 L580 366.4 L590 368.9 L600 369.8 L610 373.7 L620 386.9 L630 381.8 L640 392.2 L650 390.1 L660 387.1 L670 387.8 L680 403.0 L690 408.6" stroke="#A0F040" marker-start="url(#k25)" marker-mid="url(#k25)" marker-end="url(#k25)"/>
<path d="M60 544.6 L70 544.6 L80 544.6 L90 544.6 L100 544.6 L110 541.6 L120 544.6 L130 544.6 L140 544.6 L150 544.6 L160 544.6 L170 544.6 L180 544.6 L190 544.6 L200 544.6 L210 544.6 L220 544.6 L230 544.6 L240 544.6 L250 544.6 L260 544.6 L270 544.6 L280 544.6 L290 544.6 L300 544.6 L310 544.6 L320 544.6 L330 544.6 L340 544.6 L350 544.6 L360 544.6 L370 544.6 L380 544.6 L390 544.6 L400 544.6 L410 540.6 L420 544.6 L430 544.6 L440 544.6 L450 544.6 L460 542.6 L470 544.6 L480 544.6 L490 544.6 L500 533.6 L510 544.6 L520 544.6 L530 544.6 L540 544.6 L550 544.6 L560 538.6 L570 544.6 L580 544.6 L590 544.6 L600 544.6 L610 544.6 L620 542.6 L630 544.6 L640 544.6 L650 544.6 L660 544.6 L670 536.6 L680 544.6 L690 544.8" stroke="#A0F040" marker-start="url(#k25)" marker-mid="url(#k25)" marker-end="url(#k25)"/>
<path d="M50 219.2 L60 224.9 L70 240.9 L80 253.6 L90 263.6 L100 283.5 L110 295.1 L120 295.1 L130 270.7 L140 252.8 L150 244.0 L160 232.2 L170 223.4 L180 226.7 L190 219.9 L200 209.8 L210 210.1 L220 210.1 L230 212.3 L240 207.2 L250 212.3 L260 211.3 L270 214.1 L280 211.1 L290 209.4 L300 213.9 L310 212.0 L320 215.3 L330 224.6 L340 221.0 L350 217.2 L360 218.7 L370 210.8 L380 217.8 L390 224.1 L400 226.0 L410 220.1 L420 229.7 L430 228.2 L440 229.5 L450 223.1 L460 221.3 L470 225.1 L480 224.9 L490 210.2 L500 204.3 L510 212.9 L520 224.7 L530 240.2 L540 251.1 L550 268.5 L560 271.1 L570 261.0 L580 259.4 L590 252.2 L600 282.3 L610 284.2 L620 284.5 L630 280.0 L640 269.4 L650 282.5 L660 287.8 L670 281.6 L680 275.8 L690 269.5" stroke="#D070D0" marker-start="url(#k26)" marker-mid="url(#k26)" marker-end="url(#k26)"/>
<path d="M50 440.5 L60 444.1 L70 442.4 L80 443.0 L90 446.0 L100 447.7 L110 445.6 L120 440.6 L130 411.2 L140 386.0 L150 370.3 L160 368.9 L170 365.2 L180 362.1 L190 357.4 L200 356.2 L210 358.4 L220 360.4 L230 356.2 L240 357.6 L250 357.6 L260 363.7 L270 368.8 L280 373.5 L290 383.2 L300 382.7 L310 390.7 L320 373.8 L330 373.6 L340 374.2 L350 372.2 L360 377.3 L370 374.9 L380 381.4 L390 385.5 L400 377.5 L410 375.5 L420 375.1 L430 375.1 L440 372.4 L450 368.7 L460 374.3 L470 369.6 L480 367.8 L490 377.8 L500 386.8 L510 387.8 L520 378.8 L530 365.3 L540 366.6 L550 368.8 L560 378.9 L570 383.5 L580 373.2 L590 365.7 L600 362.7 L610 357.6 L620 349.5 L630 356.6 L640 355.6 L650 359.7 L660 369.8 L670 375.9 L680 385.0 L690 391.0" stroke="#D070D0" marker-start="url(#k26)" marker-mid="url(#k26)" marker-end="url(#k26)"/>
<path d="M60 544.6 L70 544.6 L80 544.6 L90 544.6 L100 544.6 L110 541.6 L120 544.6 L130 544.6 L140 544.6 L150 544.6 L160 544.6 L170 544.6 L180 544.6 L190 544.6 L200 544.6 L210 544.6 L220 544.6 L230 544.6 L240 544.6 L250 544.6 L260 544.6 L270 544.6 L280 544.6 L290 544.6 L300 544.6 L310 544.6 L320 544.6 L330 544.6 L340 544.6 L350 544.6 L360 544.6 L370 544.6 L380 544.6 L390 544.6 L400 544.6 L410 541.6 L420 543.0 L430 525.5 L440 485.4 L450 503.3 L460 531.6 L470 543.0 L480 544.6 L490 544.6 L500 544.6 L510 544.6 L520 544.6 L530 544.6 L540 544.6 L550 544.6 L560 544.6 L570 538.6 L580 544.6 L590 544.6 L600 544.6 L610 544.6 L620 543.0 L630 530.0 L640 510.0 L650 530.0 L660 543.0 L670 535.0 L680 525.6 L690 544.8" stroke="#D070D0" marker-start="url(#k26)" marker-mid="url(#k26)" marker-end="url(#k26)"/>
<path d="M50 220.2 L60 227.3 L70 241.1 L80 249.9 L90 265.7 L100 283.5 L110 299.6 L120 300.3 L130 278.2 L140 255.3 L150 239.3 L160 227.3 L170 221.1 L180 214.1 L190 205.9 L200 202.2 L210 203.7 L220 199.2 L230 192.8 L240 192.2 L250 193.5 L260 198.0 L270 201.7 L280 201.4 L290 194.6 L300 195.9 L310 204.2 L320 208.2 L330 204.8 L340 204.2 L350 199.4 L360 203.5 L370 194.7 L380 198.6 L390 191.6 L400 191.6 L410 186.5 L420 188.0 L430 192.6 L440 198.6 L450 203.7 L460 203.7 L470 202.7 L480 201.7 L490 197.6 L500 193.6 L510 191.6 L520 189.5 L530 187.5 L540 193.6 L550 208.8 L560 211.8 L570 213.0 L580 214.9 L590 220.0 L600 225.0 L610 228.0 L620 226.0 L630 224.0 L640 220.0 L650 212.8 L660 211.8 L670 213.8 L680 218.9 L690 220.0" stroke="#2008A0" marker-start="url(#k27)" marker-mid="url(#k27)" marker-end="url(#k27)"/>
<path d="M50 439.9 L60 444.4 L70 445.7 L80 446.3 L90 445.2 L100 447.8 L110 448.1 L120 446.2 L130 417.7 L140 393.4 L150 374.2 L160 374.6 L170 370.0 L180 366.1 L190 361.9 L200 362.4 L210 364.8 L220 364.4 L230 365.6 L240 368.8 L250 371.6 L260 372.4 L270 373.8 L280 375.6 L290 374.3 L300 375.0 L310 378.7 L320 375.6 L330 377.0 L340 374.3 L350 379.2 L360 371.2 L370 371.0 L380 355.8 L390 353.0 L400 352.6 L410 350.5 L420 350.5 L430 350.5 L440 358.7 L450 363.7 L460 370.0 L470 372.9 L480 378.6 L490 385.1 L500 376.1 L510 378.7 L520 365.2 L530 367.8 L540 367.8 L550 362.7 L560 355.6 L570 347.5 L580 345.5 L590 353.6 L600 348.5 L610 344.0 L620 350.5 L630 363.7 L640 381.0 L650 395.0 L660 400.0 L670 402.0 L680 405.0 L690 410.0" stroke="#2008A0" marker-start="url(#k27)" marker-mid="url(#k27)" marker-end="url(#k27)"/>
<path d="M60 538.0 L70 543.0 L80 544.6 L90 544.6 L100 544.6 L110 544.6 L120 544.6 L130 544.6 L140 544.6 L150 544.6 L160 544.6 L170 544.6 L180 544.6 L190 544.6 L200 544.6 L210 544.6 L220 544.6 L230 544.6 L240 544.6 L250 544.6 L260 544.6 L270 544.6 L280 544.6 L290 544.6 L300 544.6 L310 544.6 L320 544.6 L330 544.6 L340 544.6 L350 544.6 L360 544.6 L370 544.6 L380 544.6 L390 544.6 L400 544.6 L410 544.6 L420 544.6 L430 540.6 L440 538.6 L450 544.6 L460 544.6 L470 544.6 L480 544.6 L490 544.6 L500 533.6 L510 544.6 L520 544.6 L530 530.6 L540 536.6 L550 544.6 L560 544.6 L570 544.6 L580 544.6 L590 544.6 L600 544.6 L610 544.6 L620 544.6 L630 544.6 L640 533.6 L650 544.6 L660 544.6 L670 533.6 L680 536.6 L690 544.8" stroke="#2008A0" marker-start="url(#k27)" marker-mid="url(#k27)" marker-end="url(#k27)"/>
<path d="M50 216.8 L60 221.1 L70 233.8 L80 245.1 L90 260.6 L100 281.7 L110 289.6 L120 291.8 L130 270.4 L140 253.4 L150 240.3 L160 222.3 L170 223.9 L180 214.4 L190 214.4 L200 210.9 L210 212.4 L220 212.4 L230 204.7 L240 209.0 L250 212.9 L260 220.7 L270 225.5 L280 227.0 L290 234.0 L300 235.0 L310 235.5 L320 238.6 L330 240.0 L340 247.0 L350 257.4 L360 262.5 L370 266.6 L380 270.0 L390 249.0 L400 235.0 L410 225.0 L420 215.0 L430 210.0 L440 205.0 L450 200.0 L460 196.0 L470 192.6 L480 180.4 L490 176.4 L500 173.3 L510 171.9 L520 169.3 L530 167.2 L540 169.3 L550 170.3 L560 171.8 L570 181.4 L580 198.6 L590 207.8 L600 205.7 L610 204.7 L620 208.8 L630 210.8 L640 208.8 L650 205.7 L660 208.8 L670 205.7 L680 187.5 L690 172.3" stroke="#E0C8A0" marker-start="url(#k28)" marker-mid="url(#k28)" marker-end="url(#k28)"/>
<path d="M50 438.0 L60 441.8 L70 444.0 L80 444.9 L90 448.4 L100 448.6 L110 449.2 L120 448.6 L130 423.7 L140 399.3 L150 381.2 L160 380.3 L170 371.3 L180 366.7 L190 364.7 L200 358.8 L210 357.6 L220 361.9 L230 363.8 L240 373.6 L250 376.6 L260 375.7 L270 362.1 L280 353.6 L290 350.5 L300 349.5 L310 357.6 L320 365.7 L330 397.0 L340 400.0 L350 403.0 L360 399.0 L370 395.0 L380 386.9 L390 381.0 L400 376.2 L410 372.7 L420 364.5 L430 362.8 L440 365.0 L450 361.3 L460 373.8 L470 381.9 L480 395.8 L490 384.4 L500 385.3 L510 387.5 L520 384.9 L530 383.4 L540 376.2 L550 384.9 L560 381.9 L570 389.5 L580 387.1 L590 375.2 L600 390.2 L610 392.6 L620 380.0 L630 372.8 L640 360.7 L650 353.6 L660 346.5 L670 350.5 L680 353.6 L690 360.7" stroke="#E0C8A0" marker-start="url(#k28)" marker-mid="url(#k28)" marker-end="url(#k28)"/>
<path d="M60 544.6 L70 544.6 L80 544.6 L90 544.6 L100 544.6 L110 541.6 L120 544.6 L130 544.6 L140 544.6 L150 544.6 L160 544.6 L170 544.6 L180 544.6 L190 544.6 L200 544.6 L210 544.6 L220 544.6 L230 544.6 L240 544.6 L250 544.6 L260 544.6 L270 544.6 L280 544.6 L290 544.6 L300 544.6 L310 544.6 L320 543.0 L330 541.0 L340 535.0 L350 529.6 L360 543.0 L370 544.6 L380 544.6 L390 544.6 L400 544.6 L410 541.6 L420 544.6 L430 544.6 L440 538.6 L450 536.6 L460 544.6 L470 544.6 L480 544.6 L490 544.6 L500 541.6 L510 544.6 L520 536.6 L530 544.6 L540 544.6 L550 536.6 L560 538.6 L570 543.0 L580 521.5 L590 494.1 L600 525.0 L610 535.0 L620 530.0 L630 497.0 L640 524.0 L650 543.0 L660 544.6 L670 544.6 L680 544.6 L690 544.8" stroke="#E0C8A0" marker-start="url(#k28)" marker-mid="url(#k28)" marker-end="url(#k28)"/>
<path d="M50 216.5 L60 217.8 L70 231.4 L80 241.5 L90 255.5 L100 277.9 L110 287.9 L120 291.4 L130 266.5 L140 250.3 L150 239.8 L160 220.9 L170 214.1 L180 212.2 L190 205.8 L200 199.9 L210 198.9 L220 199.1 L230 197.1 L240 194.5 L250 198.4 L260 208.9 L270 220.4 L280 220.5 L290 224.6 L300 230.0 L310 231.0 L320 230.0 L330 235.0 L340 238.6 L350 243.7 L360 251.4 L370 256.8 L380 264.5 L390 276.0 L400 277.7 L410 278.0 L420 287.8 L430 288.6 L440 285.8 L450 282.8 L460 276.7 L470 267.6 L480 256.4 L490 261.0 L500 259.5 L510 258.4 L520 258.9 L530 257.4 L540 258.4 L550 255.4 L560 254.9 L570 250.3 L580 239.2 L590 231.0 L600 230.0 L610 230.0 L620 229.0 L630 227.0 L640 225.0 L650 227.0 L660 230.0 L670 232.0 L680 233.0 L690 232.0" stroke="#880810" marker-start="url(#k29)" marker-mid="url(#k29)" marker-end="url(#k29)"/>
<path d="M50 437.7 L60 439.8 L70 443.3 L80 443.5 L90 446.8 L100 448.3 L110 446.1 L120 441.8 L130 411.1 L140 396.9 L150 371.2 L160 373.0 L170 370.7 L180 365.5 L190 360.8 L200 355.5 L210 352.8 L220 353.2 L230 358.6 L240 361.8 L250 367.5 L260 372.0 L270 380.0 L280 377.1 L290 376.9 L300 374.2 L310 376.3 L320 387.2 L330 397.8 L340 395.0 L350 396.0 L360 396.0 L370 396.0 L380 399.0 L390 403.0 L400 403.7 L410 405.3 L420 407.3 L430 407.0 L440 405.3 L450 405.0 L460 405.0 L470 405.0 L480 404.0 L490 404.0 L500 396.5 L510 382.5 L520 391.4 L530 377.4 L540 375.7 L550 377.0 L560 371.6 L570 373.2 L580 380.5 L590 380.5 L600 390.7 L610 392.5 L620 388.3 L630 406.3 L640 402.2 L650 402.8 L660 384.7 L670 388.4 L680 385.1 L690 379.1" stroke="#880810" marker-start="url(#k29)" marker-mid="url(#k29)" marker-end="url(#k29)"/>
<path d="M60 544.6 L70 544.6 L80 544.6 L90 542.6 L100 544.6 L110 544.6 L120 544.6 L130 544.6 L140 544.6 L150 544.6 L160 544.6 L170 544.6 L180 544.6 L190 544.6 L200 544.6 L210 544.6 L220 544.6 L230 544.6 L240 544.6 L250 544.6 L260 544.6 L270 544.6 L280 544.6 L290 544.6 L300 544.6 L310 544.6 L320 544.6 L330 544.6 L340 544.6 L350 544.6 L360 544.6 L370 544.6 L380 542.6 L390 544.6 L400 540.6 L410 544.6 L420 541.6 L430 544.6 L440 544.6 L450 544.6 L460 544.6 L470 544.6 L480 544.6 L490 538.6 L500 544.6 L510 536.6 L520 544.6 L530 544.6 L540 544.6 L550 540.6 L560 533.6 L570 543.0 L580 535.7 L590 500.2 L600 501.2 L610 529.0 L620 540.0 L630 538.0 L640 529.0 L650 510.0 L660 514.0 L670 537.0 L680 543.0 L690 544.8" stroke="#880810" marker-start="url(#k29)" marker-mid="url(#k29)" marker-end="url(#k29)"/>
<path d="M50 219.3 L60 224.1 L70 238.1 L80 246.8 L90 262.4 L100 293.0 L110 307.8 L120 304.4 L130 288.8 L140 265.8 L150 248.3 L160 235.7 L170 231.3 L180 231.1 L190 226.3 L200 223.9 L210 224.7 L220 219.6 L230 213.6 L240 205.6 L250 206.0 L260 202.6 L270 202.3 L280 198.7 L290 200.0 L300 200.9 L310 204.1 L320 200.9 L330 199.5 L340 210.4 L350 208.5 L360 212.3 L370 215.8 L380 193.7 L390 195.3 L400 191.1 L410 184.6 L420 196.3 L430 202.0 L440 201.5 L450 198.7 L460 198.5 L470 224.0 L480 214.3 L490 204.4 L500 215.0 L510 208.5 L520 211.5 L530 226.2 L540 226.3 L550 203.7 L560 230.0 L570 232.7 L580 237.6 L590 231.9 L600 217.7 L610 220.4 L620 226.3 L630 247.3 L640 241.2 L650 232.1 L660 253.2 L670 267.4 L680 264.1 L690 267.6" stroke="#0838B8" marker-start="url(#k30)" marker-mid="url(#k30)" marker-end="url(#k30)"/>
<path d="M50 438.5 L60 446.0 L70 447.2 L80 451.6 L90 449.5 L100 457.6 L110 461.0 L120 448.5 L130 420.0 L140 396.8 L150 376.5 L160 373.8 L170 368.1 L180 365.9 L190 363.5 L200 357.3 L210 359.5 L220 360.0 L230 359.9 L240 366.4 L250 367.5 L260 364.5 L270 360.3 L280 359.7 L290 357.0 L300 358.7 L310 364.7 L320 378.1 L330 384.9 L340 377.0 L350 374.6 L360 362.7 L370 360.7 L380 358.7 L390 353.0 L400 352.6 L410 349.5 L420 346.5 L430 341.4 L440 337.4 L450 338.4 L460 346.5 L470 355.6 L480 368.8 L490 370.8 L500 376.0 L510 374.8 L520 384.0 L530 392.9 L540 392.6 L550 416.0 L560 409.4 L570 410.3 L580 410.6 L590 416.0 L600 407.8 L610 389.1 L620 386.9 L630 395.3 L640 381.0 L650 375.9 L660 375.9 L670 387.0 L680 389.0 L690 399.2" stroke="#0838B8" marker-start="url(#k30)" marker-mid="url(#k30)" marker-end="url(#k30)"/>
<path d="M60 544.6 L70 544.6 L80 544.6 L90 544.6 L100 544.6 L110 544.6 L120 544.6 L130 544.6 L140 544.6 L150 544.6 L160 544.6 L170 544.6 L180 544.6 L190 544.6 L200 544.6 L210 544.6 L220 544.6 L230 544.6 L240 544.6 L250 544.6 L260 544.6 L270 544.6 L280 544.6 L290 544.6 L300 544.6 L310 544.6 L320 544.6 L330 544.6 L340 544.6 L350 544.6 L360 544.6 L370 544.6 L380 544.6 L390 544.6 L400 538.6 L410 544.6 L420 544.6 L430 544.6 L440 544.6 L450 542.6 L460 544.6 L470 544.6 L480 540.6 L490 544.6 L500 541.6 L510 544.6 L520 544.6 L530 544.6 L540 543.0 L550 535.0 L560 520.5 L570 525.5 L580 538.0 L590 543.0 L600 544.6 L610 544.6 L620 544.6 L630 544.6 L640 544.6 L650 544.6 L660 544.6 L670 544.6 L680 544.6 L690 544.8" stroke="#0838B8" marker-start="url(#k30)" marker-mid="url(#k30)" marker-end="url(#k30)"/>
</g>
<path d="M50 217.8 L60 222.2 L70 238.0 L80 249.5 L90 262.6 L100 284.6 L110 296.0 L120 297.8 L130 277.6 L140 260.9 L150 246.0 L160 232.3 L170 225.5 L180 220.0 L190 215.2 L200 212.7 L210 212.4 L220 212.4 L230 207.4 L240 203.6 L250 204.8 L260 207.8 L270 209.5 L280 208.5 L290 209.6 L300 213.2 L310 214.9 L320 215.3 L330 215.9 L340 217.9 L350 218.9 L360 218.5 L370 217.3 L380 217.9 L390 217.9 L400 215.9 L410 214.5 L420 215.3 L430 215.9 L440 216.3 L450 216.9 L460 218.9 L470 219.9 L480 219.9 L490 220.5 L500 223.0 L510 224.0 L520 224.4 L530 226.0 L540 228.5 L550 230.0 L560 231.9 L570 233.3 L580 236.2 L590 239.2 L600 240.8 L610 241.6 L620 243.2 L630 244.9 L640 244.3 L650 244.9 L660 248.7 L670 251.4 L680 251.0 L690 250.0" fill="none" stroke="#ff0000" stroke-width="3.7" stroke-linejoin="round" stroke-linecap="butt"/>
<path d="M50 438.5 L60 441.6 L70 442.6 L80 443.4 L90 444.8 L100 445.7 L110 446.0 L120 442.0 L130 414.0 L140 391.8 L150 373.5 L160 375.5 L170 371.5 L180 368.6 L190 364.9 L200 360.3 L210 358.7 L220 360.7 L230 363.7 L240 366.4 L250 368.8 L260 372.8 L270 375.9 L280 375.9 L290 375.9 L300 376.9 L310 378.9 L320 380.0 L330 381.0 L340 381.4 L350 381.4 L360 380.5 L370 380.0 L380 379.5 L390 378.5 L400 376.9 L410 375.9 L420 376.5 L430 377.9 L440 380.0 L450 381.4 L460 382.8 L470 384.8 L480 386.6 L490 388.0 L500 389.7 L510 391.0 L520 391.5 L530 391.5 L540 392.7 L550 393.5 L560 392.0 L570 392.7 L580 393.5 L590 396.0 L600 398.0 L610 400.0 L620 402.0 L630 402.8 L640 402.0 L650 402.8 L660 404.3 L670 404.9 L680 404.3 L690 404.3" fill="none" stroke="#ff0000" stroke-width="3.7" stroke-linejoin="round" stroke-linecap="butt"/>
<path d="M60 545.0 L70 544.9 L80 544.9 L90 544.8 L100 543.0 L110 544.8 L120 544.8 L130 544.8 L140 544.8 L150 544.8 L160 544.8 L170 544.7 L180 544.7 L190 544.7 L200 544.7 L210 544.7 L220 544.7 L230 544.7 L240 544.7 L250 544.7 L260 544.7 L270 544.7 L280 544.6 L290 544.6 L300 544.6 L310 544.6 L320 544.6 L330 544.6 L340 543.8 L350 543.0 L360 543.0 L370 542.8 L380 542.0 L390 540.5 L400 538.8 L410 537.7 L420 540.0 L430 541.5 L440 541.0 L450 538.7 L460 541.8 L470 541.8 L480 541.0 L490 538.0 L500 539.0 L510 540.0 L520 538.7 L530 541.0 L540 541.8 L550 541.5 L560 540.5 L570 540.0 L580 539.5 L590 535.8 L600 535.8 L610 538.0 L620 541.0 L630 541.0 L640 541.0 L650 541.0 L660 541.5 L670 541.5 L680 541.5 L690 545.0" fill="none" stroke="#ff0000" stroke-width="3.8" stroke-linejoin="round" stroke-linecap="butt"/>
<g fill="#000">
<text x="19.2" y="27" font-family="Liberation Mono, monospace" font-size="12" letter-spacing="-1.2" >30</text>
<text x="708.8" y="27" font-family="Liberation Mono, monospace" font-size="12" letter-spacing="-1.2" >75</text>
<text x="19.2" y="62" font-family="Liberation Mono, monospace" font-size="12" letter-spacing="-1.2" >25</text>
<text x="708.8" y="62" font-family="Liberation Mono, monospace" font-size="12" letter-spacing="-1.2" >70</text>
<text x="19.2" y="97" font-family="Liberation Mono, monospace" font-size="12" letter-spacing="-1.2" >20</text>
<text x="708.8" y="97" font-family="Liberation Mono, monospace" font-size="12" letter-spacing="-1.2" >65</text>
<text x="19.2" y="132" font-family="Liberation Mono, monospace" font-size="12" letter-spacing="-1.2" >15</text>
<text x="708.8" y="132" font-family="Liberation Mono, monospace" font-size="12" letter-spacing="-1.2" >60</text>
<text x="19.2" y="167" font-family="Liberation Mono, monospace" font-size="12" letter-spacing="-1.2" >10</text>
<text x="708.8" y="167" font-family="Liberation Mono, monospace" font-size="12" letter-spacing="-1.2" >55</text>
<text x="19.2" y="202" font-family="Liberation Mono, monospace" font-size="12" letter-spacing="-1.2" >5</text>
<text x="708.8" y="202" font-family="Liberation Mono, monospace" font-size="12" letter-spacing="-1.2" >50</text>
<text x="19.2" y="237" font-family="Liberation Mono, monospace" font-size="12" letter-spacing="-1.2" >0</text>
<text x="708.8" y="237" font-family="Liberation Mono, monospace" font-size="12" letter-spacing="-1.2" >45</text>
<text x="19.2" y="272" font-family="Liberation Mono, monospace" font-size="12" letter-spacing="-1.2" >-5</text>
<text x="708.8" y="272" font-family="Liberation Mono, monospace" font-size="12" letter-spacing="-1.2" >40</text>
<text x="19.2" y="307" font-family="Liberation Mono, monospace" font-size="12" letter-spacing="-1.2" >-10</text>
<text x="708.8" y="307" font-family="Liberation Mono, monospace" font-size="12" letter-spacing="-1.2" >35</text>
<text x="19.2" y="342" font-family="Liberation Mono, monospace" font-size="12" letter-spacing="-1.2" >-15</text>
<text x="708.8" y="342" font-family="Liberation Mono, monospace" font-size="12" letter-spacing="-1.2" >30</text>
<text x="19.2" y="377" font-family="Liberation Mono, monospace" font-size="12" letter-spacing="-1.2" >-20</text>
<text x="708.8" y="377" font-family="Liberation Mono, monospace" font-size="12" letter-spacing="-1.2" >25</text>
<text x="19.2" y="412" font-family="Liberation Mono, monospace" font-size="12" letter-spacing="-1.2" >-25</text>
<text x="708.8" y="412" font-family="Liberation Mono, monospace" font-size="12" letter-spacing="-1.2" >20</text>
<text x="19.2" y="447" font-family="Liberation Mono, monospace" font-size="12" letter-spacing="-1.2" >-30</text>
<text x="708.8" y="447" font-family="Liberation Mono, monospace" font-size="12" letter-spacing="-1.2" >15</text>
<text x="19.2" y="482" font-family="Liberation Mono, monospace" font-size="12" letter-spacing="-1.2" >-35</text>
<text x="708.8" y="482" font-family="Liberation Mono, monospace" font-size="12" letter-spacing="-1.2" >10</text>
<text x="19.2" y="517" font-family="Liberation Mono, monospace" font-size="12" letter-spacing="-1.2" >-40</text>
<text x="708.8" y="517" font-family="Liberation Mono, monospace" font-size="12" letter-spacing="-1.2" >5</text>
<text x="19.2" y="552" font-family="Liberation Mono, monospace" font-size="12" letter-spacing="-1.2" >-45</text>
<text x="708.8" y="552" font-family="Liberation Mono, monospace" font-size="12" letter-spacing="-1.2" >0</text>
<text x="59.2" y="208" font-family="Liberation Mono, monospace" font-size="12" letter-spacing="-1.2" >Temp. 850hPa</text>
<text x="59.2" y="379" font-family="Liberation Mono, monospace" font-size="12" letter-spacing="-1.2" >Temp. 500hPa</text>
<text x="59.2" y="494" font-family="Liberation Mono, monospace" font-size="12" letter-spacing="-1.2" >Précipitations</text>
<text x="19.2" y="611" font-family="Liberation Mono, monospace" font-size="12" letter-spacing="-1.2" >(°c)</text>
<text x="709.2" y="611" font-family="Liberation Mono, monospace" font-size="12" letter-spacing="-1.2" >(mm)</text>
<text x="9.2" y="628" font-family="Liberation Mono, monospace" font-size="12" letter-spacing="-1.2" >Alt. 162m</text>
<text transform="translate(71,631.6) rotate(-90)" font-family="Liberation Mono, monospace" font-size="12" letter-spacing="-1.45">11/01</text>
<text transform="translate(111,631.6) rotate(-90)" font-family="Liberation Mono, monospace" font-size="12" letter-spacing="-1.45">12/01</text>
<text transform="translate(151,631.6) rotate(-90)" font-family="Liberation Mono, monospace" font-size="12" letter-spacing="-1.45">13/01</text>
<text transform="translate(191,631.6) rotate(-90)" font-family="Liberation Mono, monospace" font-size="12" letter-spacing="-1.45">14/01</text>
<text transform="translate(231,631.6) rotate(-90)" font-family="Liberation Mono, monospace" font-size="12" letter-spacing="-1.45">15/01</text>
<text transform="translate(271,631.6) rotate(-90)" font-family="Liberation Mono, monospace" font-size="12" letter-spacing="-1.45">16/01</text>
<text transform="translate(311,631.6) rotate(-90)" font-family="Liberation Mono, monospace" font-size="12" letter-spacing="-1.45">17/01</text>
<text transform="translate(351,631.6) rotate(-90)" font-family="Liberation Mono, monospace" font-size="12" letter-spacing="-1.45">18/01</text>
<text transform="translate(391,631.6) rotate(-90)" font-family="Liberation Mono, monospace" font-size="12" letter-spacing="-1.45">19/01</text>
<text transform="translate(431,631.6) rotate(-90)" font-family="Liberation Mono, monospace" font-size="12" letter-spacing="-1.45">20/01</text>
<text transform="translate(471,631.6) rotate(-90)" font-family="Liberation Mono, monospace" font-size="12" letter-spacing="-1.45">21/01</text>
<text transform="translate(511,631.6) rotate(-90)" font-family="Liberation Mono, monospace" font-size="12" letter-spacing="-1.45">22/01</text>
<text transform="translate(551,631.6) rotate(-90)" font-family="Liberation Mono, monospace" font-size="12" letter-spacing="-1.45">23/01</text>
<text transform="translate(591,631.6) rotate(-90)" font-family="Liberation Mono, monospace" font-size="12" letter-spacing="-1.45">24/01</text>
<text transform="translate(631,631.6) rotate(-90)" font-family="Liberation Mono, monospace" font-size="12" letter-spacing="-1.45">25/01</text>
<text transform="translate(671,631.6) rotate(-90)" font-family="Liberation Mono, monospace" font-size="12" letter-spacing="-1.45">26/01</text>
<text x="74.2" y="641" font-family="Liberation Mono, monospace" font-size="12" letter-spacing="-1.2" >Moyenne des scénarios</text>
<text x="264.2" y="641" font-family="Liberation Mono, monospace" font-size="12" letter-spacing="-1.2" >Run de contrôle</text>
<text x="264.2" y="651" font-family="Liberation Mono, monospace" font-size="12" letter-spacing="-1.2" >Run GFS</text>
<text x="74.2" y="663" font-family="Liberation Mono, monospace" font-size="12" letter-spacing="-1.2" >Risque neige</text>
<text x="339.2" y="657" font-family="Liberation Mono, monospace" font-size="12" letter-spacing="-1.2" >30 Perts.</text>
<text x="29.2" y="681" font-family="Liberation Mono, monospace" font-size="12" font-weight="bold" letter-spacing="-0.2" >Diagramme des ensembles GEFS sur 384h : 40.6N 22.9E</text>
<text x="29.2" y="695" font-family="Liberation Mono, monospace" font-size="12" letter-spacing="-1.2" >Températures 850hPa et 500hPa (°C) , précipitations (mm)</text>
<text x="449.2" y="676" font-family="Liberation Mono, monospace" font-size="12" letter-spacing="-1.2" >Ensemble GEFS du 10/01/2026 - 18Z</text>
<text x="449.2" y="695" font-family="Liberation Mono, monospace" font-size="12" font-weight="bold" letter-spacing="-0.2" >Copyright 2026 Meteociel.fr</text>
</g>
<g shape-rendering="crispEdges"><rect x="35" y="635" width="31" height="4" fill="#ff0000"/><rect x="225" y="635" width="31" height="4" fill="#0000ff"/><rect x="225" y="645" width="31" height="4" fill="#000"/>
<rect x="20.5" y="668.5" width="420" height="31" fill="none" stroke="#000" stroke-width="1"/>
<rect x="400" y="650" width="10" height="6" fill="#E67E30"/>
<rect x="411" y="650" width="10" height="6" fill="#7DC369"/>
<rect x="422" y="650" width="10" height="6" fill="#F1C40F"/>
<rect x="433" y="650" width="10" height="6" fill="#8E44AD"/>
<rect x="444" y="650" width="10" height="6" fill="#AA4A0C"/>
<rect x="455" y="650" width="10" height="6" fill="#5B8A0C"/>
<rect x="466" y="650" width="10" height="6" fill="#0A7CFF"/>
<rect x="477" y="650" width="10" height="6" fill="#EAD9B0"/>
<rect x="488" y="650" width="10" height="6" fill="#3A8EBA"/>
<rect x="499" y="650" width="10" height="6" fill="#E5A555"/>
<rect x="510" y="650" width="10" height="6" fill="#65501E"/>
<rect x="521" y="650" width="10" height="6" fill="#F2641C"/>
<rect x="532" y="650" width="10" height="6" fill="#D1BE76"/>
<rect x="543" y="650" width="10" height="6" fill="#0AD558"/>
<rect x="554" y="650" width="10" height="6" fill="#26425E"/>
<rect x="565" y="650" width="10" height="6" fill="#6E7A84"/>
<rect x="576" y="650" width="10" height="6" fill="#E878F0"/>
<rect x="587" y="650" width="10" height="6" fill="#8020F0"/>
<rect x="598" y="650" width="10" height="6" fill="#806030"/>
<rect x="609" y="650" width="10" height="6" fill="#380870"/>
<rect x="620" y="650" width="10" height="6" fill="#F0D010"/>
<rect x="631" y="650" width="10" height="6" fill="#2868A0"/>
<rect x="642" y="650" width="10" height="6" fill="#905820"/>
<rect x="653" y="650" width="10" height="6" fill="#9888E8"/>
<rect x="664" y="650" width="10" height="6" fill="#A0F040"/>
<rect x="675" y="650" width="10" height="6" fill="#D070D0"/>
<rect x="686" y="650" width="10" height="6" fill="#2008A0"/>
<rect x="697" y="650" width="10" height="6" fill="#E0C8A0"/>
<rect x="708" y="650" width="10" height="6" fill="#880810"/>
<rect x="719" y="650" width="10" height="6" fill="#0838B8"/>
</g>
<text x="400.5" y="647.2" font-family="Liberation Sans, sans-serif" font-size="8.6" font-weight="bold" textLength="9" lengthAdjust="spacingAndGlyphs" fill="#000">01</text>
<text x="411.5" y="647.2" font-family="Liberation Sans, sans-serif" font-size="8.6" font-weight="bold" textLength="9" lengthAdjust="spacingAndGlyphs" fill="#000">02</text>
<text x="422.5" y="647.2" font-family="Liberation Sans, sans-serif" font-size="8.6" font-weight="bold" textLength="9" lengthAdjust="spacingAndGlyphs" fill="#000">03</text>
<text x="433.5" y="647.2" font-family="Liberation Sans, sans-serif" font-size="8.6" font-weight="bold" textLength="9" lengthAdjust="spacingAndGlyphs" fill="#000">04</text>
<text x="444.5" y="647.2" font-family="Liberation Sans, sans-serif" font-size="8.6" font-weight="bold" textLength="9" lengthAdjust="spacingAndGlyphs" fill="#000">05</text>
<text x="455.5" y="647.2" font-family="Liberation Sans, sans-serif" font-size="8.6" font-weight="bold" textLength="9" lengthAdjust="spacingAndGlyphs" fill="#000">06</text>
<text x="466.5" y="647.2" font-family="Liberation Sans, sans-serif" font-size="8.6" font-weight="bold" textLength="9" lengthAdjust="spacingAndGlyphs" fill="#000">07</text>
<text x="477.5" y="647.2" font-family="Liberation Sans, sans-serif" font-size="8.6" font-weight="bold" textLength="9" lengthAdjust="spacingAndGlyphs" fill="#000">08</text>
<text x="488.5" y="647.2" font-family="Liberation Sans, sans-serif" font-size="8.6" font-weight="bold" textLength="9" lengthAdjust="spacingAndGlyphs" fill="#000">09</text>
<text x="499.5" y="647.2" font-family="Liberation Sans, sans-serif" font-size="8.6" font-weight="bold" textLength="9" lengthAdjust="spacingAndGlyphs" fill="#000">10</text>
<text x="510.5" y="647.2" font-family="Liberation Sans, sans-serif" font-size="8.6" font-weight="bold" textLength="9" lengthAdjust="spacingAndGlyphs" fill="#000">11</text>
<text x="521.5" y="647.2" font-family="Liberation Sans, sans-serif" font-size="8.6" font-weight="bold" textLength="9" lengthAdjust="spacingAndGlyphs" fill="#000">12</text>
<text x="532.5" y="647.2" font-family="Liberation Sans, sans-serif" font-size="8.6" font-weight="bold" textLength="9" lengthAdjust="spacingAndGlyphs" fill="#000">13</text>
<text x="543.5" y="647.2" font-family="Liberation Sans, sans-serif" font-size="8.6" font-weight="bold" textLength="9" lengthAdjust="spacingAndGlyphs" fill="#000">14</text>
<text x="554.5" y="647.2" font-family="Liberation Sans, sans-serif" font-size="8.6" font-weight="bold" textLength="9" lengthAdjust="spacingAndGlyphs" fill="#000">15</text>
<text x="565.5" y="647.2" font-family="Liberation Sans, sans-serif" font-size="8.6" font-weight="bold" textLength="9" lengthAdjust="spacingAndGlyphs" fill="#000">16</text>
<text x="576.5" y="647.2" font-family="Liberation Sans, sans-serif" font-size="8.6" font-weight="bold" textLength="9" lengthAdjust="spacingAndGlyphs" fill="#000">17</text>
<text x="587.5" y="647.2" font-family="Liberation Sans, sans-serif" font-size="8.6" font-weight="bold" textLength="9" lengthAdjust="spacingAndGlyphs" fill="#000">18</text>
<text x="598.5" y="647.2" font-family="Liberation Sans, sans-serif" font-size="8.6" font-weight="bold" textLength="9" lengthAdjust="spacingAndGlyphs" fill="#000">19</text>
<text x="609.5" y="647.2" font-family="Liberation Sans, sans-serif" font-size="8.6" font-weight="bold" textLength="9" lengthAdjust="spacingAndGlyphs" fill="#000">20</text>
<text x="620.5" y="647.2" font-family="Liberation Sans, sans-serif" font-size="8.6" font-weight="bold" textLength="9" lengthAdjust="spacingAndGlyphs" fill="#000">21</text>
<text x="631.5" y="647.2" font-family="Liberation Sans, sans-serif" font-size="8.6" font-weight="bold" textLength="9" lengthAdjust="spacingAndGlyphs" fill="#000">22</text>
<text x="642.5" y="647.2" font-family="Liberation Sans, sans-serif" font-size="8.6" font-weight="bold" textLength="9" lengthAdjust="spacingAndGlyphs" fill="#000">23</text>
<text x="653.5" y="647.2" font-family="Liberation Sans, sans-serif" font-size="8.6" font-weight="bold" textLength="9" lengthAdjust="spacingAndGlyphs" fill="#000">24</text>
<text x="664.5" y="647.2" font-family="Liberation Sans, sans-serif" font-size="8.6" font-weight="bold" textLength="9" lengthAdjust="spacingAndGlyphs" fill="#000">25</text>
<text x="675.5" y="647.2" font-family="Liberation Sans, sans-serif" font-size="8.6" font-weight="bold" textLength="9" lengthAdjust="spacingAndGlyphs" fill="#000">26</text>
<text x="686.5" y="647.2" font-family="Liberation Sans, sans-serif" font-size="8.6" font-weight="bold" textLength="9" lengthAdjust="spacingAndGlyphs" fill="#000">27</text>
<text x="697.5" y="647.2" font-family="Liberation Sans, sans-serif" font-size="8.6" font-weight="bold" textLength="9" lengthAdjust="spacingAndGlyphs" fill="#000">28</text>
<text x="708.5" y="647.2" font-family="Liberation Sans, sans-serif" font-size="8.6" font-weight="bold" textLength="9" lengthAdjust="spacingAndGlyphs" fill="#000">29</text>
<text x="719.5" y="647.2" font-family="Liberation Sans, sans-serif" font-size="8.6" font-weight="bold" textLength="9" lengthAdjust="spacingAndGlyphs" fill="#000">30</text>
<rect x="85" y="576" width="10" height="8" fill="#c0ffff" shape-rendering="crispEdges"/>
<rect x="95" y="573" width="10" height="11" fill="#c0ffff" shape-rendering="crispEdges"/>
<rect x="105" y="578" width="10" height="6" fill="#c0ffff" shape-rendering="crispEdges"/>
<rect x="495" y="582" width="10" height="2" fill="#c0ffff" shape-rendering="crispEdges"/>
<rect x="525" y="581" width="10" height="3" fill="#c0ffff" shape-rendering="crispEdges"/>
<rect x="535" y="581" width="10" height="3" fill="#c0ffff" shape-rendering="crispEdges"/>
<rect x="545" y="578" width="10" height="6" fill="#c0ffff" shape-rendering="crispEdges"/>
<rect x="555" y="581" width="10" height="3" fill="#c0ffff" shape-rendering="crispEdges"/>
<rect x="565" y="580" width="10" height="4" fill="#c0ffff" shape-rendering="crispEdges"/>
<rect x="575" y="581" width="10" height="3" fill="#c0ffff" shape-rendering="crispEdges"/>
<rect x="585" y="582" width="10" height="2" fill="#c0ffff" shape-rendering="crispEdges"/>
<rect x="595" y="581" width="10" height="3" fill="#c0ffff" shape-rendering="crispEdges"/>
<rect x="605" y="578" width="10" height="6" fill="#c0ffff" shape-rendering="crispEdges"/>
<rect x="615" y="580" width="10" height="4" fill="#c0ffff" shape-rendering="crispEdges"/>
<rect x="625" y="582" width="10" height="2" fill="#c0ffff" shape-rendering="crispEdges"/>
<rect x="635" y="582" width="10" height="2" fill="#c0ffff" shape-rendering="crispEdges"/>
<rect x="645" y="581" width="10" height="3" fill="#c0ffff" shape-rendering="crispEdges"/>
<rect x="655" y="582" width="10" height="2" fill="#c0ffff" shape-rendering="crispEdges"/>
<rect x="665" y="580" width="10" height="4" fill="#c0ffff" shape-rendering="crispEdges"/>
<rect x="675" y="580" width="10" height="4" fill="#c0ffff" shape-rendering="crispEdges"/>
<g transform="translate(90,588.5)"><path d="M0 -5.7L4.9 -2.9V2.9L0 5.7L-4.9 2.9V-2.9Z" fill="#a4dcf8"/><g stroke="#45b2f2" stroke-width="2" stroke-linecap="round"><path d="M0 -4.3V4.3M-3.8 -2.2L3.8 2.2M-3.8 2.2L3.8 -2.2"/></g><g fill="#e4f7ff"><circle cx="3.5" cy="0.0" r="0.8"/><circle cx="1.8" cy="3.0" r="0.8"/><circle cx="-1.7" cy="3.0" r="0.8"/><circle cx="-3.5" cy="0.0" r="0.8"/><circle cx="-1.8" cy="-3.0" r="0.8"/><circle cx="1.8" cy="-3.0" r="0.8"/></g></g>
<text transform="translate(92.4,581.6) rotate(-90)" textLength="15.5" font-family="Liberation Sans, sans-serif" font-size="9" font-weight="bold" fill="#0000ff" stroke="#0000ff" stroke-width="0.25" lengthAdjust="spacingAndGlyphs">23%</text>
<g transform="translate(100,588.5)"><path d="M0 -5.7L4.9 -2.9V2.9L0 5.7L-4.9 2.9V-2.9Z" fill="#a4dcf8"/><g stroke="#45b2f2" stroke-width="2" stroke-linecap="round"><path d="M0 -4.3V4.3M-3.8 -2.2L3.8 2.2M-3.8 2.2L3.8 -2.2"/></g><g fill="#e4f7ff"><circle cx="3.5" cy="0.0" r="0.8"/><circle cx="1.8" cy="3.0" r="0.8"/><circle cx="-1.7" cy="3.0" r="0.8"/><circle cx="-3.5" cy="0.0" r="0.8"/><circle cx="-1.8" cy="-3.0" r="0.8"/><circle cx="1.8" cy="-3.0" r="0.8"/></g></g>
<text transform="translate(102.4,581.6) rotate(-90)" textLength="15.5" font-family="Liberation Sans, sans-serif" font-size="9" font-weight="bold" fill="#0000ff" stroke="#0000ff" stroke-width="0.25" lengthAdjust="spacingAndGlyphs">35%</text>
<g transform="translate(110,588.5)"><path d="M0 -5.7L4.9 -2.9V2.9L0 5.7L-4.9 2.9V-2.9Z" fill="#a4dcf8"/><g stroke="#45b2f2" stroke-width="2" stroke-linecap="round"><path d="M0 -4.3V4.3M-3.8 -2.2L3.8 2.2M-3.8 2.2L3.8 -2.2"/></g><g fill="#e4f7ff"><circle cx="3.5" cy="0.0" r="0.8"/><circle cx="1.8" cy="3.0" r="0.8"/><circle cx="-1.7" cy="3.0" r="0.8"/><circle cx="-3.5" cy="0.0" r="0.8"/><circle cx="-1.8" cy="-3.0" r="0.8"/><circle cx="1.8" cy="-3.0" r="0.8"/></g></g>
<text transform="translate(112.4,581.6) rotate(-90)" textLength="15.5" font-family="Liberation Sans, sans-serif" font-size="9" font-weight="bold" fill="#0000ff" stroke="#0000ff" stroke-width="0.25" lengthAdjust="spacingAndGlyphs">16%</text>
<g transform="translate(500,588.5)"><path d="M0 -5.7L4.9 -2.9V2.9L0 5.7L-4.9 2.9V-2.9Z" fill="#a4dcf8"/><g stroke="#45b2f2" stroke-width="2" stroke-linecap="round"><path d="M0 -4.3V4.3M-3.8 -2.2L3.8 2.2M-3.8 2.2L3.8 -2.2"/></g><g fill="#e4f7ff"><circle cx="3.5" cy="0.0" r="0.8"/><circle cx="1.8" cy="3.0" r="0.8"/><circle cx="-1.7" cy="3.0" r="0.8"/><circle cx="-3.5" cy="0.0" r="0.8"/><circle cx="-1.8" cy="-3.0" r="0.8"/><circle cx="1.8" cy="-3.0" r="0.8"/></g></g>
<text transform="translate(502.4,581.6) rotate(-90)" textLength="10.4" font-family="Liberation Sans, sans-serif" font-size="9" font-weight="bold" fill="#0000ff" stroke="#0000ff" stroke-width="0.25" lengthAdjust="spacingAndGlyphs">3%</text>
<g transform="translate(530,588.5)"><path d="M0 -5.7L4.9 -2.9V2.9L0 5.7L-4.9 2.9V-2.9Z" fill="#a4dcf8"/><g stroke="#45b2f2" stroke-width="2" stroke-linecap="round"><path d="M0 -4.3V4.3M-3.8 -2.2L3.8 2.2M-3.8 2.2L3.8 -2.2"/></g><g fill="#e4f7ff"><circle cx="3.5" cy="0.0" r="0.8"/><circle cx="1.8" cy="3.0" r="0.8"/><circle cx="-1.7" cy="3.0" r="0.8"/><circle cx="-3.5" cy="0.0" r="0.8"/><circle cx="-1.8" cy="-3.0" r="0.8"/><circle cx="1.8" cy="-3.0" r="0.8"/></g></g>
<text transform="translate(532.4,581.6) rotate(-90)" textLength="10.4" font-family="Liberation Sans, sans-serif" font-size="9" font-weight="bold" fill="#0000ff" stroke="#0000ff" stroke-width="0.25" lengthAdjust="spacingAndGlyphs">6%</text>
<g transform="translate(540,588.5)"><path d="M0 -5.7L4.9 -2.9V2.9L0 5.7L-4.9 2.9V-2.9Z" fill="#a4dcf8"/><g stroke="#45b2f2" stroke-width="2" stroke-linecap="round"><path d="M0 -4.3V4.3M-3.8 -2.2L3.8 2.2M-3.8 2.2L3.8 -2.2"/></g><g fill="#e4f7ff"><circle cx="3.5" cy="0.0" r="0.8"/><circle cx="1.8" cy="3.0" r="0.8"/><circle cx="-1.7" cy="3.0" r="0.8"/><circle cx="-3.5" cy="0.0" r="0.8"/><circle cx="-1.8" cy="-3.0" r="0.8"/><circle cx="1.8" cy="-3.0" r="0.8"/></g></g>
<text transform="translate(542.4,581.6) rotate(-90)" textLength="10.4" font-family="Liberation Sans, sans-serif" font-size="9" font-weight="bold" fill="#0000ff" stroke="#0000ff" stroke-width="0.25" lengthAdjust="spacingAndGlyphs">6%</text>
<g transform="translate(550,588.5)"><path d="M0 -5.7L4.9 -2.9V2.9L0 5.7L-4.9 2.9V-2.9Z" fill="#a4dcf8"/><g stroke="#45b2f2" stroke-width="2" stroke-linecap="round"><path d="M0 -4.3V4.3M-3.8 -2.2L3.8 2.2M-3.8 2.2L3.8 -2.2"/></g><g fill="#e4f7ff"><circle cx="3.5" cy="0.0" r="0.8"/><circle cx="1.8" cy="3.0" r="0.8"/><circle cx="-1.7" cy="3.0" r="0.8"/><circle cx="-3.5" cy="0.0" r="0.8"/><circle cx="-1.8" cy="-3.0" r="0.8"/><circle cx="1.8" cy="-3.0" r="0.8"/></g></g>
<text transform="translate(552.4,581.6) rotate(-90)" textLength="15.5" font-family="Liberation Sans, sans-serif" font-size="9" font-weight="bold" fill="#0000ff" stroke="#0000ff" stroke-width="0.25" lengthAdjust="spacingAndGlyphs">16%</text>
<g transform="translate(560,588.5)"><path d="M0 -5.7L4.9 -2.9V2.9L0 5.7L-4.9 2.9V-2.9Z" fill="#a4dcf8"/><g stroke="#45b2f2" stroke-width="2" stroke-linecap="round"><path d="M0 -4.3V4.3M-3.8 -2.2L3.8 2.2M-3.8 2.2L3.8 -2.2"/></g><g fill="#e4f7ff"><circle cx="3.5" cy="0.0" r="0.8"/><circle cx="1.8" cy="3.0" r="0.8"/><circle cx="-1.7" cy="3.0" r="0.8"/><circle cx="-3.5" cy="0.0" r="0.8"/><circle cx="-1.8" cy="-3.0" r="0.8"/><circle cx="1.8" cy="-3.0" r="0.8"/></g></g>
<text transform="translate(562.4,581.6) rotate(-90)" textLength="10.4" font-family="Liberation Sans, sans-serif" font-size="9" font-weight="bold" fill="#0000ff" stroke="#0000ff" stroke-width="0.25" lengthAdjust="spacingAndGlyphs">6%</text>
<g transform="translate(570,588.5)"><path d="M0 -5.7L4.9 -2.9V2.9L0 5.7L-4.9 2.9V-2.9Z" fill="#a4dcf8"/><g stroke="#45b2f2" stroke-width="2" stroke-linecap="round"><path d="M0 -4.3V4.3M-3.8 -2.2L3.8 2.2M-3.8 2.2L3.8 -2.2"/></g><g fill="#e4f7ff"><circle cx="3.5" cy="0.0" r="0.8"/><circle cx="1.8" cy="3.0" r="0.8"/><circle cx="-1.7" cy="3.0" r="0.8"/><circle cx="-3.5" cy="0.0" r="0.8"/><circle cx="-1.8" cy="-3.0" r="0.8"/><circle cx="1.8" cy="-3.0" r="0.8"/></g></g>
<text transform="translate(572.4,581.6) rotate(-90)" textLength="15.5" font-family="Liberation Sans, sans-serif" font-size="9" font-weight="bold" fill="#0000ff" stroke="#0000ff" stroke-width="0.25" lengthAdjust="spacingAndGlyphs">10%</text>
<g transform="translate(580,588.5)"><path d="M0 -5.7L4.9 -2.9V2.9L0 5.7L-4.9 2.9V-2.9Z" fill="#a4dcf8"/><g stroke="#45b2f2" stroke-width="2" stroke-linecap="round"><path d="M0 -4.3V4.3M-3.8 -2.2L3.8 2.2M-3.8 2.2L3.8 -2.2"/></g><g fill="#e4f7ff"><circle cx="3.5" cy="0.0" r="0.8"/><circle cx="1.8" cy="3.0" r="0.8"/><circle cx="-1.7" cy="3.0" r="0.8"/><circle cx="-3.5" cy="0.0" r="0.8"/><circle cx="-1.8" cy="-3.0" r="0.8"/><circle cx="1.8" cy="-3.0" r="0.8"/></g></g>
<text transform="translate(582.4,581.6) rotate(-90)" textLength="10.4" font-family="Liberation Sans, sans-serif" font-size="9" font-weight="bold" fill="#0000ff" stroke="#0000ff" stroke-width="0.25" lengthAdjust="spacingAndGlyphs">6%</text>
<g transform="translate(590,588.5)"><path d="M0 -5.7L4.9 -2.9V2.9L0 5.7L-4.9 2.9V-2.9Z" fill="#a4dcf8"/><g stroke="#45b2f2" stroke-width="2" stroke-linecap="round"><path d="M0 -4.3V4.3M-3.8 -2.2L3.8 2.2M-3.8 2.2L3.8 -2.2"/></g><g fill="#e4f7ff"><circle cx="3.5" cy="0.0" r="0.8"/><circle cx="1.8" cy="3.0" r="0.8"/><circle cx="-1.7" cy="3.0" r="0.8"/><circle cx="-3.5" cy="0.0" r="0.8"/><circle cx="-1.8" cy="-3.0" r="0.8"/><circle cx="1.8" cy="-3.0" r="0.8"/></g></g>
<text transform="translate(592.4,581.6) rotate(-90)" textLength="10.4" font-family="Liberation Sans, sans-serif" font-size="9" font-weight="bold" fill="#0000ff" stroke="#0000ff" stroke-width="0.25" lengthAdjust="spacingAndGlyphs">3%</text>
<g transform="translate(600,588.5)"><path d="M0 -5.7L4.9 -2.9V2.9L0 5.7L-4.9 2.9V-2.9Z" fill="#a4dcf8"/><g stroke="#45b2f2" stroke-width="2" stroke-linecap="round"><path d="M0 -4.3V4.3M-3.8 -2.2L3.8 2.2M-3.8 2.2L3.8 -2.2"/></g><g fill="#e4f7ff"><circle cx="3.5" cy="0.0" r="0.8"/><circle cx="1.8" cy="3.0" r="0.8"/><circle cx="-1.7" cy="3.0" r="0.8"/><circle cx="-3.5" cy="0.0" r="0.8"/><circle cx="-1.8" cy="-3.0" r="0.8"/><circle cx="1.8" cy="-3.0" r="0.8"/></g></g>
<text transform="translate(602.4,581.6) rotate(-90)" textLength="10.4" font-family="Liberation Sans, sans-serif" font-size="9" font-weight="bold" fill="#0000ff" stroke="#0000ff" stroke-width="0.25" lengthAdjust="spacingAndGlyphs">6%</text>
<g transform="translate(610,588.5)"><path d="M0 -5.7L4.9 -2.9V2.9L0 5.7L-4.9 2.9V-2.9Z" fill="#a4dcf8"/><g stroke="#45b2f2" stroke-width="2" stroke-linecap="round"><path d="M0 -4.3V4.3M-3.8 -2.2L3.8 2.2M-3.8 2.2L3.8 -2.2"/></g><g fill="#e4f7ff"><circle cx="3.5" cy="0.0" r="0.8"/><circle cx="1.8" cy="3.0" r="0.8"/><circle cx="-1.7" cy="3.0" r="0.8"/><circle cx="-3.5" cy="0.0" r="0.8"/><circle cx="-1.8" cy="-3.0" r="0.8"/><circle cx="1.8" cy="-3.0" r="0.8"/></g></g>
<text transform="translate(612.4,581.6) rotate(-90)" textLength="15.5" font-family="Liberation Sans, sans-serif" font-size="9" font-weight="bold" fill="#0000ff" stroke="#0000ff" stroke-width="0.25" lengthAdjust="spacingAndGlyphs">16%</text>
<g transform="translate(620,588.5)"><path d="M0 -5.7L4.9 -2.9V2.9L0 5.7L-4.9 2.9V-2.9Z" fill="#a4dcf8"/><g stroke="#45b2f2" stroke-width="2" stroke-linecap="round"><path d="M0 -4.3V4.3M-3.8 -2.2L3.8 2.2M-3.8 2.2L3.8 -2.2"/></g><g fill="#e4f7ff"><circle cx="3.5" cy="0.0" r="0.8"/><circle cx="1.8" cy="3.0" r="0.8"/><circle cx="-1.7" cy="3.0" r="0.8"/><circle cx="-3.5" cy="0.0" r="0.8"/><circle cx="-1.8" cy="-3.0" r="0.8"/><circle cx="1.8" cy="-3.0" r="0.8"/></g></g>
<text transform="translate(622.4,581.6) rotate(-90)" textLength="15.5" font-family="Liberation Sans, sans-serif" font-size="9" font-weight="bold" fill="#0000ff" stroke="#0000ff" stroke-width="0.25" lengthAdjust="spacingAndGlyphs">10%</text>
<g transform="translate(630,588.5)"><path d="M0 -5.7L4.9 -2.9V2.9L0 5.7L-4.9 2.9V-2.9Z" fill="#a4dcf8"/><g stroke="#45b2f2" stroke-width="2" stroke-linecap="round"><path d="M0 -4.3V4.3M-3.8 -2.2L3.8 2.2M-3.8 2.2L3.8 -2.2"/></g><g fill="#e4f7ff"><circle cx="3.5" cy="0.0" r="0.8"/><circle cx="1.8" cy="3.0" r="0.8"/><circle cx="-1.7" cy="3.0" r="0.8"/><circle cx="-3.5" cy="0.0" r="0.8"/><circle cx="-1.8" cy="-3.0" r="0.8"/><circle cx="1.8" cy="-3.0" r="0.8"/></g></g>
<text transform="translate(632.4,581.6) rotate(-90)" textLength="10.4" font-family="Liberation Sans, sans-serif" font-size="9" font-weight="bold" fill="#0000ff" stroke="#0000ff" stroke-width="0.25" lengthAdjust="spacingAndGlyphs">3%</text>
<g transform="translate(640,588.5)"><path d="M0 -5.7L4.9 -2.9V2.9L0 5.7L-4.9 2.9V-2.9Z" fill="#a4dcf8"/><g stroke="#45b2f2" stroke-width="2" stroke-linecap="round"><path d="M0 -4.3V4.3M-3.8 -2.2L3.8 2.2M-3.8 2.2L3.8 -2.2"/></g><g fill="#e4f7ff"><circle cx="3.5" cy="0.0" r="0.8"/><circle cx="1.8" cy="3.0" r="0.8"/><circle cx="-1.7" cy="3.0" r="0.8"/><circle cx="-3.5" cy="0.0" r="0.8"/><circle cx="-1.8" cy="-3.0" r="0.8"/><circle cx="1.8" cy="-3.0" r="0.8"/></g></g>
<text transform="translate(642.4,581.6) rotate(-90)" textLength="10.4" font-family="Liberation Sans, sans-serif" font-size="9" font-weight="bold" fill="#0000ff" stroke="#0000ff" stroke-width="0.25" lengthAdjust="spacingAndGlyphs">3%</text>
<g transform="translate(650,588.5)"><path d="M0 -5.7L4.9 -2.9V2.9L0 5.7L-4.9 2.9V-2.9Z" fill="#a4dcf8"/><g stroke="#45b2f2" stroke-width="2" stroke-linecap="round"><path d="M0 -4.3V4.3M-3.8 -2.2L3.8 2.2M-3.8 2.2L3.8 -2.2"/></g><g fill="#e4f7ff"><circle cx="3.5" cy="0.0" r="0.8"/><circle cx="1.8" cy="3.0" r="0.8"/><circle cx="-1.7" cy="3.0" r="0.8"/><circle cx="-3.5" cy="0.0" r="0.8"/><circle cx="-1.8" cy="-3.0" r="0.8"/><circle cx="1.8" cy="-3.0" r="0.8"/></g></g>
<text transform="translate(652.4,581.6) rotate(-90)" textLength="10.4" font-family="Liberation Sans, sans-serif" font-size="9" font-weight="bold" fill="#0000ff" stroke="#0000ff" stroke-width="0.25" lengthAdjust="spacingAndGlyphs">6%</text>
<g transform="translate(660,588.5)"><path d="M0 -5.7L4.9 -2.9V2.9L0 5.7L-4.9 2.9V-2.9Z" fill="#a4dcf8"/><g stroke="#45b2f2" stroke-width="2" stroke-linecap="round"><path d="M0 -4.3V4.3M-3.8 -2.2L3.8 2.2M-3.8 2.2L3.8 -2.2"/></g><g fill="#e4f7ff"><circle cx="3.5" cy="0.0" r="0.8"/><circle cx="1.8" cy="3.0" r="0.8"/><circle cx="-1.7" cy="3.0" r="0.8"/><circle cx="-3.5" cy="0.0" r="0.8"/><circle cx="-1.8" cy="-3.0" r="0.8"/><circle cx="1.8" cy="-3.0" r="0.8"/></g></g>
<text transform="translate(662.4,581.6) rotate(-90)" textLength="10.4" font-family="Liberation Sans, sans-serif" font-size="9" font-weight="bold" fill="#0000ff" stroke="#0000ff" stroke-width="0.25" lengthAdjust="spacingAndGlyphs">3%</text>
<g transform="translate(670,588.5)"><path d="M0 -5.7L4.9 -2.9V2.9L0 5.7L-4.9 2.9V-2.9Z" fill="#a4dcf8"/><g stroke="#45b2f2" stroke-width="2" stroke-linecap="round"><path d="M0 -4.3V4.3M-3.8 -2.2L3.8 2.2M-3.8 2.2L3.8 -2.2"/></g><g fill="#e4f7ff"><circle cx="3.5" cy="0.0" r="0.8"/><circle cx="1.8" cy="3.0" r="0.8"/><circle cx="-1.7" cy="3.0" r="0.8"/><circle cx="-3.5" cy="0.0" r="0.8"/><circle cx="-1.8" cy="-3.0" r="0.8"/><circle cx="1.8" cy="-3.0" r="0.8"/></g></g>
<text transform="translate(672.4,581.6) rotate(-90)" textLength="15.5" font-family="Liberation Sans, sans-serif" font-size="9" font-weight="bold" fill="#0000ff" stroke="#0000ff" stroke-width="0.25" lengthAdjust="spacingAndGlyphs">10%</text>
<g transform="translate(680,588.5)"><path d="M0 -5.7L4.9 -2.9V2.9L0 5.7L-4.9 2.9V-2.9Z" fill="#a4dcf8"/><g stroke="#45b2f2" stroke-width="2" stroke-linecap="round"><path d="M0 -4.3V4.3M-3.8 -2.2L3.8 2.2M-3.8 2.2L3.8 -2.2"/></g><g fill="#e4f7ff"><circle cx="3.5" cy="0.0" r="0.8"/><circle cx="1.8" cy="3.0" r="0.8"/><circle cx="-1.7" cy="3.0" r="0.8"/><circle cx="-3.5" cy="0.0" r="0.8"/><circle cx="-1.8" cy="-3.0" r="0.8"/><circle cx="1.8" cy="-3.0" r="0.8"/></g></g>
<text transform="translate(682.4,581.6) rotate(-90)" textLength="15.5" font-family="Liberation Sans, sans-serif" font-size="9" font-weight="bold" fill="#0000ff" stroke="#0000ff" stroke-width="0.25" lengthAdjust="spacingAndGlyphs">10%</text>
<g transform="translate(60.4,657.4)"><path d="M0 -5.7L4.9 -2.9V2.9L0 5.7L-4.9 2.9V-2.9Z" fill="#a4dcf8"/><g stroke="#45b2f2" stroke-width="2" stroke-linecap="round"><path d="M0 -4.3V4.3M-3.8 -2.2L3.8 2.2M-3.8 2.2L3.8 -2.2"/></g><g fill="#e4f7ff"><circle cx="3.5" cy="0.0" r="0.8"/><circle cx="1.8" cy="3.0" r="0.8"/><circle cx="-1.7" cy="3.0" r="0.8"/><circle cx="-3.5" cy="0.0" r="0.8"/><circle cx="-1.8" cy="-3.0" r="0.8"/><circle cx="1.8" cy="-3.0" r="0.8"/></g></g>
</svg>
</body></html>
